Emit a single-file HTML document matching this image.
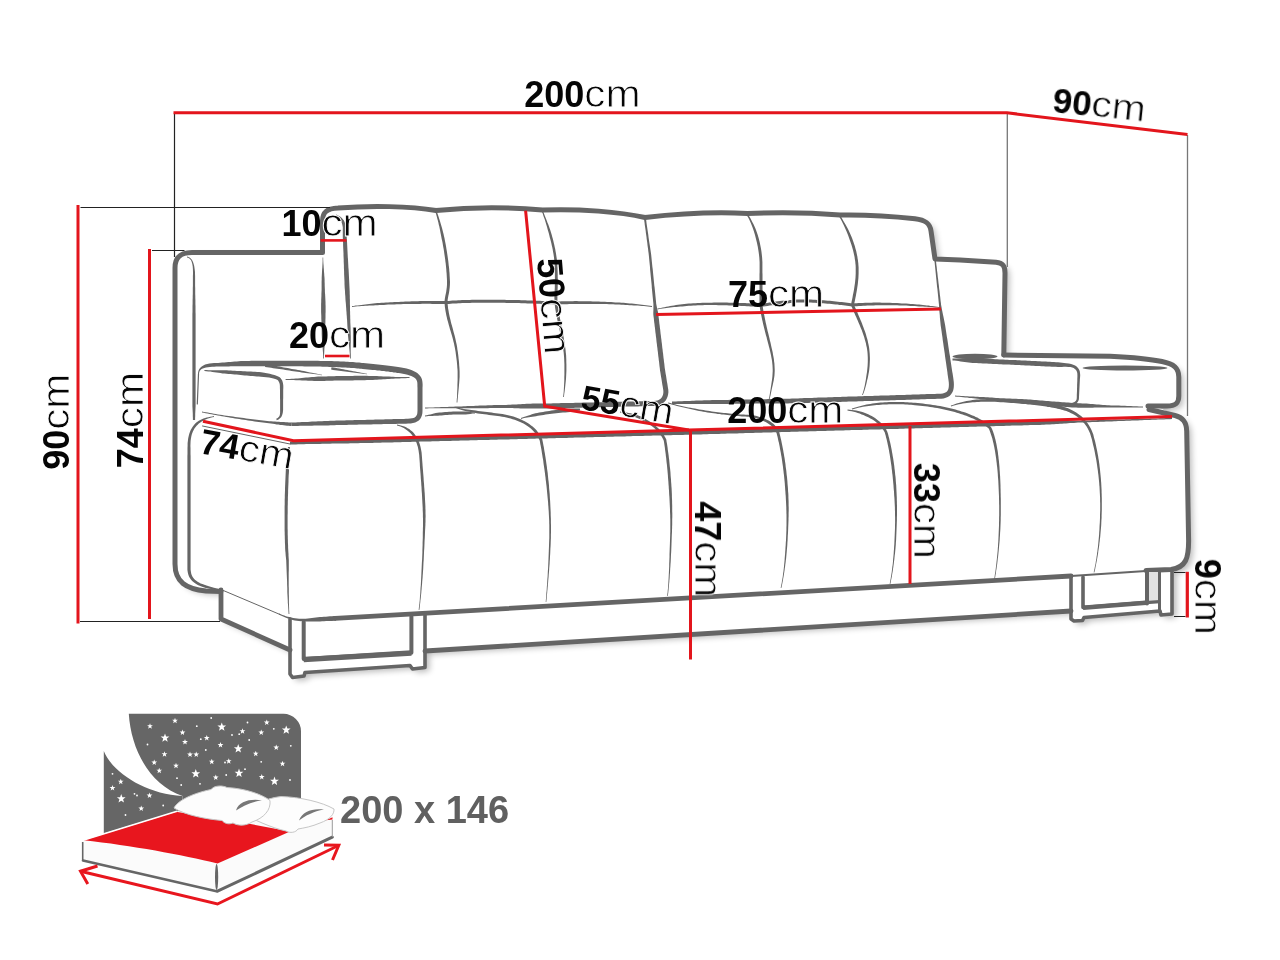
<!DOCTYPE html>
<html lang="en">
<head>
<meta charset="utf-8">
<title>Sofa dimensions</title>
<style>
html,body{margin:0;padding:0;background:#fff}
body{width:1280px;height:960px;overflow:hidden;font-family:"Liberation Sans",sans-serif}
svg{display:block;position:absolute;left:0;top:0}
text{font-family:"Liberation Sans",sans-serif}
.o{fill:none;stroke:#656565;stroke-linecap:round;stroke-linejoin:round}
.r{fill:none;stroke:#e3151c;stroke-width:3;stroke-linecap:butt;stroke-linejoin:miter}
.k{fill:none;stroke:#222;stroke-width:1.2}
.g{fill:none;stroke:#777;stroke-width:1.3}
.lab{fill:#050505}
.lab .n{font-weight:bold;font-size:36px}
.lab .u{font-weight:normal;font-size:38px;stroke:#fff;stroke-width:0.8px;paint-order:fill stroke}
</style>
</head>
<body>
<svg width="1280" height="960" viewBox="0 0 1280 960">
<rect width="1280" height="960" fill="#fff"/>

<!-- SOFA-START -->
<g id="sofa">
<defs><filter id="sh" x="-5%" y="-5%" width="110%" height="112%"><feGaussianBlur stdDeviation="3.2"/></filter></defs>
<path d="M175,268C175,257.5 180,252.5 192,252.5L322.5,252.5L322.5,221C322.5,212 327,208.5 338,208C370,205.5 410,206 436,210.5C470,207 510,207 542.5,210C580,208.5 620,212 645,217.5C680,213.5 715,211.8 747.5,213.5C780,212 810,212.5 840,215C870,214.5 895,216.5 915,218.7C925,219.8 930,223 931,231L935,259L960,260L996,262.3C1003,263 1005,266 1005,273L1003.8,355L1110,356.2C1135,357.5 1150,359 1162,361.5C1174,364 1178.8,368 1178.8,377L1178.8,396C1178.8,403 1176,406 1167,406L1160,408L1175,415.5C1183,417.5 1186.5,422 1186.7,431L1188.6,540C1188.8,558 1186,567.5 1172,570V614L1161,615L1160,611L1084,617.5L1082.5,620.5L1074,621L1071,619V610.5L425,651V667.5L412.5,669L410,665.5L305,672.5L304,676L292.5,677.5L290,674V650L221,619V591.5L206,591C186,589 175,582 175,564Z" fill="#000" opacity="0.27" filter="url(#sh)" transform="translate(4.5,3.5)"/>
<path d="M175,268C175,257.5 180,252.5 192,252.5L322.5,252.5L322.5,221C322.5,212 327,208.5 338,208C370,205.5 410,206 436,210.5C470,207 510,207 542.5,210C580,208.5 620,212 645,217.5C680,213.5 715,211.8 747.5,213.5C780,212 810,212.5 840,215C870,214.5 895,216.5 915,218.7C925,219.8 930,223 931,231L935,259L960,260L996,262.3C1003,263 1005,266 1005,273L1003.8,355L1110,356.2C1135,357.5 1150,359 1162,361.5C1174,364 1178.8,368 1178.8,377L1178.8,396C1178.8,403 1176,406 1167,406L1160,408L1175,415.5C1183,417.5 1186.5,422 1186.7,431L1188.6,540C1188.8,558 1186,567.5 1172,570V614L1161,615L1160,611L1084,617.5L1082.5,620.5L1074,621L1071,619V610.5L425,651V667.5L412.5,669L410,665.5L305,672.5L304,676L292.5,677.5L290,674V650L221,619V591.5L206,591C186,589 175,582 175,564Z" fill="#fff"/>
<path class="o" stroke-width="5" d="M221,591.5L206,591C186,589 175,582 175,564L175,268C175,257.5 180,252.5 192,252.5L322.5,252.5L322.5,221C322.5,212 327,208.5 338,208C370,205.5 410,206 436,210.5C470,207 510,207 542.5,210C580,208.5 620,212 645,217.5C680,213.5 715,211.8 747.5,213.5C780,212 810,212.5 840,215C870,214.5 895,216.5 915,218.7C925,219.8 930,223 931,231L935,259L960,260L996,262.3C1003,263 1005,266 1005,273L1003.8,355"/>
<path class="o" stroke-width="5" d="M1003.8,355L1110,356.2C1135,357.5 1150,359 1162,361.5C1174,364 1178.8,368 1178.8,377L1178.8,396C1178.8,403 1176,406 1167,406L1148,406"/>
<path class="o" stroke-width="5" d="M1149,409.5L1175,415.5C1183,417.5 1186.5,422 1186.7,431L1188.6,540C1188.8,558 1186,567.5 1171,569.5L1146,570.5"/>
<path class="o" stroke-width="4.8" d="M335,618.35L1071,576"/>
<path fill="#656565" d="M278.8,614.5 L280.4,615.2 L282.0,616.0 L283.7,616.7 L285.4,617.5 L287.2,618.2 L289.0,618.8 L290.8,619.4 L292.7,620.0 L294.7,620.5 L296.8,620.8 L298.9,621.1 L301.1,621.3 L303.3,621.4 L305.7,621.5 L308.1,621.6 L310.1,621.6 L312.1,621.6 L314.1,621.6 L316.1,621.6 L318.1,621.5 L320.1,621.5 L322.1,621.3 L324.1,621.2 L326.1,621.1 L328.1,621.1 L330.1,621.0 L332.1,620.9 L334.1,620.8 L336.1,620.7 L335.9,615.9 L333.9,616.0 L331.9,616.2 L329.9,616.3 L327.9,616.5 L325.9,616.7 L323.9,616.8 L321.9,617.0 L319.9,617.1 L317.9,617.3 L315.9,617.5 L313.9,617.7 L311.9,617.9 L309.9,618.2 L307.9,618.4 L305.6,618.7 L303.4,618.8 L301.2,618.8 L299.1,618.7 L297.1,618.5 L295.1,618.2 L293.2,617.9 L291.3,617.5 L289.5,617.1 L287.7,616.7 L285.9,616.2 L284.2,615.6 L282.5,615.0 L280.8,614.3 L279.2,613.5 Z"/>
<path class="o" stroke-width="2" d="M1071,576L1146,571"/>
<path class="o" stroke-width="4.8" d="M221,590V619L290,650"/>
<path class="o" stroke-width="4.8" d="M425,651L1071,611"/>
<path class="o" stroke-width="1" d="M221,589.5L280,614.5"/>
<path class="o" stroke-width="3.6" d="M290,619V674L292.5,677.5L304,676L305,672.5L410,665.5L412.5,669L425,667.5V615"/>
<path class="o" stroke-width="4" d="M303.7,622V659L411.4,652.7V616.5"/>
<path class="o" stroke-width="5.4" d="M303.7,659.6L411.4,653" style="stroke-linecap:butt"/>
<path class="o" stroke-width="3.6" d="M1071,576V619L1074,621L1082.5,620.5L1084,617.5L1160,611L1161,615L1172,614V571"/>
<path class="o" stroke-width="3.6" d="M1083,577V607.5L1146,602.5"/>
<path class="o" stroke-width="4.6" d="M1083,607.8L1146,602.8" style="stroke-linecap:butt"/>
<path d="M1146,572H1159V602.5H1146Z" fill="#e2e2e2"/>
<path class="o" stroke-width="3.4" d="M1146,602.6L1159.5,601.6" style="stroke-linecap:butt"/>
<path class="o" stroke-width="4" d="M1147,572V603.5"/>
<path class="o" stroke-width="3" d="M1159.5,572V611"/>
<path fill="#656565" d="M186.9,257.4 L188.2,257.8 L189.4,258.5 L190.4,259.4 L191.2,260.6 L191.8,262.2 L192.3,264.0 L192.7,266.3 L192.9,269.0 L193.0,272.0 L193.0,274.0 L192.9,276.0 L192.9,278.0 L192.9,280.0 L192.9,282.0 L192.9,284.0 L192.9,286.0 L192.8,288.0 L192.8,290.0 L192.8,292.0 L192.8,294.0 L192.7,296.0 L192.7,298.0 L192.6,300.0 L192.6,302.0 L192.6,304.0 L192.5,306.0 L192.5,308.0 L192.5,310.0 L192.5,312.0 L192.4,314.0 L192.4,316.0 L192.4,318.0 L192.4,320.0 L192.4,322.0 L192.4,324.0 L192.4,326.0 L192.4,328.0 L192.4,330.0 L192.4,332.0 L192.4,334.0 L192.4,336.0 L192.4,338.0 L192.4,340.0 L192.4,342.0 L192.4,344.0 L192.4,346.0 L192.4,348.0 L192.4,350.0 L192.4,352.0 L192.4,354.0 L192.4,356.0 L192.4,358.0 L192.4,360.0 L192.4,362.0 L192.4,364.0 L192.4,366.0 L192.4,368.0 L192.4,370.0 L192.4,372.0 L192.4,374.0 L192.4,376.0 L192.4,378.0 L192.4,380.0 L192.4,382.0 L192.4,384.0 L192.4,386.0 L192.4,388.0 L192.4,390.0 L192.4,392.0 L192.4,394.0 L192.4,396.0 L192.4,398.0 L192.4,400.0 L192.4,402.0 L192.4,404.0 L192.4,406.0 L192.5,408.0 L192.6,410.0 L192.7,412.0 L192.8,414.0 L192.8,416.0 L192.9,418.0 L192.9,420.0 L195.1,420.0 L195.1,418.0 L195.2,416.0 L195.2,414.0 L195.3,412.0 L195.4,410.0 L195.5,408.0 L195.6,406.0 L195.6,404.0 L195.6,402.0 L195.6,400.0 L195.6,398.0 L195.6,396.0 L195.6,394.0 L195.6,392.0 L195.6,390.0 L195.6,388.0 L195.6,386.0 L195.6,384.0 L195.6,382.0 L195.6,380.0 L195.6,378.0 L195.6,376.0 L195.6,374.0 L195.6,372.0 L195.6,370.0 L195.6,368.0 L195.6,366.0 L195.6,364.0 L195.6,362.0 L195.6,360.0 L195.6,358.0 L195.6,356.0 L195.6,354.0 L195.6,352.0 L195.6,350.0 L195.6,348.0 L195.6,346.0 L195.6,344.0 L195.6,342.0 L195.6,340.0 L195.6,338.0 L195.6,336.0 L195.6,334.0 L195.6,332.0 L195.6,330.0 L195.6,328.0 L195.6,326.0 L195.6,324.0 L195.6,322.0 L195.6,320.0 L195.6,318.0 L195.6,316.0 L195.6,314.0 L195.5,312.0 L195.5,310.0 L195.5,308.0 L195.5,306.0 L195.4,304.0 L195.4,302.0 L195.4,300.0 L195.3,298.0 L195.3,296.0 L195.2,294.0 L195.2,292.0 L195.2,290.0 L195.2,288.0 L195.1,286.0 L195.1,284.0 L195.1,282.0 L195.1,280.0 L195.1,278.0 L195.1,276.0 L195.0,274.0 L195.0,272.0 L194.6,268.8 L194.2,266.1 L193.6,263.7 L192.9,261.8 L192.0,260.1 L191.0,258.8 L189.9,257.8 L188.6,257.1 L187.1,256.6 Z"/>
<path fill="#656565" d="M213.9,416.1 L212.1,416.4 L210.3,416.8 L208.5,417.2 L206.8,417.6 L205.1,418.1 L203.5,418.6 L201.9,419.2 L200.3,420.0 L198.8,420.8 L197.4,421.8 L196.0,422.8 L194.8,424.1 L193.6,425.4 L192.5,426.9 L191.6,428.4 L190.7,430.1 L189.9,432.0 L189.2,433.9 L188.7,436.1 L188.2,438.3 L187.9,440.7 L187.6,443.3 L187.6,446.0 L187.5,448.0 L187.5,450.0 L187.5,452.0 L187.5,454.0 L187.4,456.0 L187.4,458.0 L187.4,460.0 L187.4,462.0 L187.4,464.0 L187.4,466.0 L187.4,468.0 L187.4,470.0 L187.4,472.0 L187.4,474.0 L187.4,476.0 L187.4,478.0 L187.4,480.0 L187.4,482.0 L187.4,484.0 L187.4,486.0 L187.4,488.0 L187.4,490.0 L187.4,492.0 L187.4,494.0 L187.4,496.0 L187.4,498.0 L187.4,500.0 L187.4,502.0 L187.4,504.0 L187.4,506.0 L187.4,508.0 L187.4,510.0 L187.4,512.0 L187.4,514.0 L187.4,516.0 L187.4,518.0 L187.4,520.0 L187.4,522.0 L187.4,524.0 L187.4,526.0 L187.4,528.0 L187.4,530.0 L187.4,532.0 L187.4,534.0 L187.4,536.0 L187.4,538.0 L187.4,540.0 L187.4,542.0 L187.4,544.0 L187.4,546.0 L187.4,548.0 L187.4,550.0 L187.4,552.0 L187.4,554.0 L187.4,556.0 L187.4,558.0 L187.4,560.0 L187.4,562.0 L187.4,564.0 L187.4,566.0 L187.4,568.0 L187.4,569.7 L187.6,571.3 L187.9,572.9 L188.3,574.4 L188.8,575.9 L189.4,577.2 L190.2,578.5 L191.1,579.8 L192.2,580.9 L193.4,582.0 L194.7,583.0 L196.2,584.0 L197.8,584.9 L199.6,585.7 L201.5,586.5 L203.6,587.2 L205.8,587.9 L208.3,588.4 L210.9,588.9 L213.7,589.3 L216.7,589.7 L219.9,590.1 L220.1,588.9 L216.9,588.4 L214.0,587.7 L211.3,587.0 L208.8,586.2 L206.5,585.5 L204.3,584.8 L202.4,584.1 L200.6,583.4 L199.0,582.6 L197.6,581.7 L196.3,580.8 L195.2,579.9 L194.2,579.0 L193.4,578.0 L192.7,576.9 L192.1,575.9 L191.6,574.7 L191.2,573.5 L191.0,572.3 L190.8,570.9 L190.6,569.5 L190.6,568.0 L190.6,566.0 L190.6,564.0 L190.6,562.0 L190.6,560.0 L190.6,558.0 L190.6,556.0 L190.6,554.0 L190.6,552.0 L190.6,550.0 L190.6,548.0 L190.6,546.0 L190.6,544.0 L190.6,542.0 L190.6,540.0 L190.6,538.0 L190.6,536.0 L190.6,534.0 L190.6,532.0 L190.6,530.0 L190.6,528.0 L190.6,526.0 L190.6,524.0 L190.6,522.0 L190.6,520.0 L190.6,518.0 L190.6,516.0 L190.6,514.0 L190.6,512.0 L190.6,510.0 L190.6,508.0 L190.6,506.0 L190.6,504.0 L190.6,502.0 L190.6,500.0 L190.6,498.0 L190.6,496.0 L190.6,494.0 L190.6,492.0 L190.6,490.0 L190.6,488.0 L190.6,486.0 L190.6,484.0 L190.6,482.0 L190.6,480.0 L190.6,478.0 L190.6,476.0 L190.6,474.0 L190.6,472.0 L190.6,470.0 L190.6,468.0 L190.6,466.0 L190.6,464.0 L190.6,462.0 L190.6,460.0 L190.6,458.0 L190.6,456.0 L190.5,454.0 L190.5,452.0 L190.5,450.0 L190.5,448.0 L190.4,446.0 L190.5,443.4 L190.6,441.0 L190.9,438.7 L191.3,436.6 L191.7,434.7 L192.3,432.9 L193.0,431.2 L193.8,429.7 L194.6,428.2 L195.6,426.9 L196.6,425.8 L197.7,424.7 L198.8,423.6 L200.0,422.7 L201.3,421.8 L202.7,420.9 L204.1,420.1 L205.6,419.4 L207.2,418.8 L208.8,418.2 L210.5,417.7 L212.3,417.3 L214.1,416.9 Z"/>
<path fill="#656565" d="M199.0,374.0 L199.2,372.4 L199.7,371.1 L200.5,370.0 L201.6,369.1 L202.8,368.4 L204.3,367.9 L206.0,367.5 L207.9,367.2 L209.9,366.9 L212.1,366.8 L214.2,366.7 L216.2,366.6 L218.3,366.5 L220.4,366.5 L222.5,366.5 L224.5,366.4 L226.6,366.4 L228.7,366.4 L230.8,366.3 L232.8,366.3 L234.9,366.3 L237.0,366.2 L239.0,366.2 L241.1,366.2 L243.0,366.2 L245.1,366.3 L247.1,366.3 L249.1,366.3 L251.2,366.3 L253.2,366.3 L255.2,366.3 L257.3,366.3 L259.3,366.3 L261.3,366.3 L263.4,366.3 L265.4,366.3 L267.4,366.3 L269.5,366.3 L271.5,366.3 L273.5,366.3 L275.6,366.3 L277.6,366.3 L279.6,366.3 L281.7,366.3 L283.7,366.3 L285.7,366.3 L287.8,366.3 L289.8,366.3 L291.8,366.3 L293.9,366.3 L295.9,366.3 L297.9,366.3 L300.0,366.3 L302.0,366.3 L304.7,366.4 L307.5,366.4 L310.1,366.4 L312.7,366.5 L315.3,366.5 L317.8,366.6 L320.2,366.6 L322.6,366.7 L325.0,366.7 L327.3,366.8 L329.5,366.9 L331.7,366.9 L333.9,367.0 L336.0,367.1 L338.0,367.2 L340.0,367.3 L341.9,367.4 L343.8,367.5 L345.7,367.6 L347.5,367.7 L349.2,367.8 L350.9,367.9 L352.5,368.0 L354.1,368.1 L355.7,368.3 L357.2,368.4 L358.6,368.5 L360.0,368.7 L361.4,368.8 L362.7,369.0 L365.3,369.2 L367.8,369.4 L370.2,369.7 L372.6,369.9 L375.0,370.1 L377.3,370.4 L379.6,370.6 L381.8,370.9 L384.0,371.1 L386.1,371.4 L388.1,371.6 L390.1,371.9 L392.0,372.1 L393.8,372.4 L395.5,372.6 L397.2,372.9 L398.7,373.1 L400.2,373.3 L401.6,373.5 L402.8,373.8 L405.3,374.2 L407.5,374.8 L409.6,375.4 L411.3,376.0 L412.8,376.7 L414.1,377.4 L415.1,378.3 L415.9,379.1 L416.5,380.1 L417.0,381.2 L417.3,382.5 L417.4,384.1 L417.4,386.0 L417.5,388.1 L417.5,390.1 L417.5,392.2 L417.5,394.2 L417.5,396.2 L417.5,398.3 L417.5,400.3 L417.5,402.3 L417.5,404.4 L417.5,406.4 L417.5,408.5 L417.5,410.4 L417.4,412.3 L417.2,413.9 L416.8,415.1 L416.2,416.0 L415.6,416.7 L414.7,417.4 L413.5,417.9 L412.0,418.3 L410.1,418.6 L407.9,418.8 L405.9,418.8 L403.9,418.9 L401.8,418.9 L399.8,419.0 L397.7,419.0 L395.7,419.1 L393.6,419.1 L391.6,419.2 L389.5,419.2 L387.5,419.3 L385.4,419.3 L383.4,419.4 L381.3,419.5 L379.3,419.5 L377.2,419.6 L375.2,419.6 L373.1,419.7 L371.1,419.7 L369.1,419.8 L367.0,419.8 L365.0,419.9 L362.9,419.9 L360.9,420.0 L358.8,420.0 L356.8,420.1 L354.7,420.1 L352.7,420.2 L350.6,420.2 L348.6,420.3 L346.5,420.3 L344.5,420.4 L342.4,420.4 L340.4,420.5 L338.4,420.6 L336.3,420.6 L334.3,420.7 L332.3,420.8 L330.2,420.8 L328.2,420.9 L326.2,421.0 L324.1,421.1 L322.1,421.2 L320.1,421.2 L318.0,421.3 L316.0,421.4 L314.0,421.5 L312.0,421.6 L309.9,421.8 L307.9,421.9 L305.9,422.0 L303.8,422.1 L301.8,422.1 L299.8,422.2 L297.7,422.3 L295.7,422.4 L293.7,422.5 L291.6,422.6 L291.8,426.0 L293.8,426.0 L295.8,425.9 L297.9,425.9 L299.9,425.8 L301.9,425.8 L304.0,425.8 L306.0,425.7 L308.0,425.7 L310.1,425.7 L312.1,425.7 L314.1,425.6 L316.1,425.6 L318.2,425.6 L320.2,425.6 L322.2,425.5 L324.3,425.5 L326.3,425.4 L328.3,425.4 L330.4,425.3 L332.4,425.3 L334.4,425.2 L336.5,425.1 L338.5,425.1 L340.5,425.0 L342.6,425.0 L344.6,424.9 L346.6,424.9 L348.7,424.8 L350.7,424.8 L352.8,424.7 L354.8,424.7 L356.9,424.7 L358.9,424.6 L361.0,424.6 L363.0,424.5 L365.1,424.5 L367.1,424.4 L369.2,424.4 L371.2,424.4 L373.3,424.3 L375.3,424.3 L377.4,424.2 L379.4,424.2 L381.4,424.2 L383.5,424.1 L385.5,424.1 L387.6,424.0 L389.6,424.0 L391.7,424.0 L393.7,423.9 L395.8,423.9 L397.8,423.8 L399.9,423.8 L401.9,423.8 L404.0,423.7 L406.0,423.7 L408.1,423.6 L410.7,423.5 L413.0,423.1 L415.2,422.5 L417.1,421.6 L418.8,420.4 L420.2,418.9 L421.3,417.1 L422.0,415.1 L422.4,412.9 L422.5,410.6 L422.5,408.5 L422.5,406.4 L422.5,404.4 L422.5,402.3 L422.5,400.3 L422.5,398.3 L422.5,396.2 L422.5,394.2 L422.5,392.2 L422.5,390.1 L422.5,388.1 L422.6,386.0 L422.6,383.9 L422.4,381.7 L422.0,379.6 L421.3,377.7 L420.2,375.9 L418.8,374.4 L417.3,373.0 L415.5,371.9 L413.5,370.9 L411.4,370.1 L409.1,369.3 L406.6,368.6 L404.0,368.0 L402.6,367.8 L401.2,367.5 L399.7,367.2 L398.1,367.0 L396.4,366.7 L394.6,366.5 L392.8,366.2 L390.8,365.9 L388.8,365.7 L386.8,365.4 L384.7,365.2 L382.5,364.9 L380.2,364.7 L378.0,364.4 L375.6,364.2 L373.2,364.0 L370.8,363.7 L368.3,363.5 L365.8,363.3 L363.3,363.0 L362.0,362.9 L360.6,362.8 L359.2,362.6 L357.7,362.5 L356.2,362.4 L354.6,362.2 L353.0,362.1 L351.3,362.0 L349.6,361.9 L347.8,361.8 L346.0,361.7 L344.1,361.6 L342.2,361.5 L340.3,361.4 L338.2,361.3 L336.2,361.3 L334.1,361.2 L331.9,361.1 L329.7,361.1 L327.4,361.0 L325.1,361.0 L322.8,360.9 L320.4,360.9 L317.9,360.8 L315.4,360.8 L312.8,360.8 L310.2,360.7 L307.5,360.7 L304.8,360.7 L302.0,360.7 L300.0,360.7 L297.9,360.7 L295.9,360.7 L293.9,360.7 L291.8,360.7 L289.8,360.7 L287.8,360.7 L285.7,360.7 L283.7,360.7 L281.7,360.8 L279.6,360.8 L277.6,360.8 L275.6,360.8 L273.5,360.8 L271.5,360.8 L269.5,360.8 L267.4,360.8 L265.4,360.8 L263.4,360.8 L261.3,360.8 L259.3,360.8 L257.3,360.8 L255.2,360.8 L253.2,360.8 L251.2,360.8 L249.1,360.9 L247.1,360.9 L245.1,360.9 L243.0,361.0 L240.9,361.0 L238.8,361.2 L236.7,361.4 L234.7,361.5 L232.6,361.7 L230.5,361.9 L228.5,362.0 L226.4,362.2 L224.3,362.4 L222.3,362.5 L220.2,362.7 L218.1,362.9 L216.1,363.0 L214.0,363.1 L211.9,363.2 L209.5,363.5 L207.2,363.9 L205.1,364.6 L203.3,365.4 L201.7,366.5 L200.3,367.7 L199.3,369.0 L198.6,370.5 L198.1,372.2 L198.0,374.0 Z"/>
<path fill="#656565" d="M291.8,422.6 L290.3,422.5 L288.8,422.4 L287.3,422.3 L285.6,422.2 L284.0,422.1 L282.3,422.0 L280.5,421.9 L278.7,421.8 L276.9,421.7 L275.0,421.6 L273.1,421.5 L271.1,421.3 L269.2,421.2 L267.2,421.0 L265.1,420.8 L263.1,420.5 L261.0,420.3 L258.9,420.0 L256.8,419.8 L254.7,419.5 L252.6,419.2 L250.4,419.0 L248.3,418.7 L246.1,418.4 L243.9,418.1 L241.7,417.8 L239.5,417.5 L237.4,417.2 L235.2,416.9 L233.0,416.6 L230.8,416.3 L228.6,416.0 L226.5,415.7 L224.3,415.4 L222.2,415.0 L220.1,414.7 L218.0,414.4 L215.9,414.0 L213.9,413.7 L211.8,413.3 L209.8,413.0 L207.8,412.6 L205.9,412.3 L204.0,411.9 L202.1,411.6 L201.9,412.4 L203.8,412.8 L205.7,413.2 L207.7,413.6 L209.6,413.9 L211.7,414.3 L213.7,414.7 L215.7,415.1 L217.8,415.4 L219.9,415.8 L222.0,416.2 L224.1,416.6 L226.3,416.9 L228.4,417.3 L230.6,417.7 L232.8,418.1 L234.9,418.4 L237.1,418.8 L239.3,419.1 L241.5,419.5 L243.7,419.8 L245.8,420.1 L248.0,420.5 L250.2,420.8 L252.3,421.1 L254.5,421.4 L256.6,421.7 L258.7,422.0 L260.8,422.2 L262.9,422.5 L264.9,422.7 L266.9,423.0 L268.9,423.3 L270.9,423.5 L272.8,423.8 L274.7,424.1 L276.6,424.4 L278.4,424.6 L280.2,424.9 L282.0,425.1 L283.7,425.3 L285.4,425.5 L287.0,425.7 L288.6,425.8 L290.1,425.9 L291.6,426.0 Z"/>
<path class="o" stroke-width="1.2" d="M198.5,374L197.3,404"/>
<path fill="#656565" d="M204.4,371.0 L206.4,371.2 L208.4,371.4 L210.4,371.6 L212.4,371.9 L214.4,372.2 L216.4,372.5 L218.5,372.8 L220.5,373.1 L222.5,373.4 L224.5,373.6 L226.5,373.8 L228.5,374.0 L230.6,374.1 L232.6,374.3 L234.6,374.5 L236.6,374.6 L238.6,374.8 L240.6,375.0 L242.7,375.2 L244.7,375.4 L246.7,375.6 L248.7,375.8 L250.7,376.0 L252.8,376.1 L254.8,376.3 L256.8,376.5 L258.8,376.6 L260.8,376.7 L263.7,376.9 L266.4,377.2 L269.0,377.5 L271.4,377.9 L273.4,378.4 L275.2,379.0 L276.6,379.5 L277.6,380.1 L278.1,380.5 L279.1,382.2 L279.7,383.9 L279.9,385.9 L279.9,388.0 L280.0,390.0 L280.0,392.0 L280.0,394.0 L280.0,396.0 L280.0,398.0 L280.1,400.0 L280.1,402.0 L280.1,404.0 L280.1,406.0 L280.1,408.0 L280.1,410.0 L280.1,412.5 L279.9,414.5 L279.5,415.9 L278.7,417.1 L277.7,418.0 L276.2,418.8 L276.8,420.2 L278.5,419.4 L280.0,418.3 L281.3,417.0 L282.2,415.1 L282.8,412.8 L283.1,410.0 L283.1,408.0 L283.1,406.0 L283.1,404.0 L283.1,402.0 L283.1,400.0 L283.2,398.0 L283.2,396.0 L283.2,394.0 L283.2,392.0 L283.2,390.0 L283.3,388.0 L283.3,385.7 L283.0,383.2 L282.3,380.8 L280.9,378.5 L279.7,377.3 L278.2,376.4 L276.4,375.7 L274.4,375.0 L272.2,374.4 L269.7,373.8 L267.0,373.3 L264.2,372.8 L261.2,372.3 L259.1,372.1 L257.1,372.0 L255.1,371.8 L253.1,371.7 L251.0,371.6 L249.0,371.5 L247.0,371.4 L245.0,371.3 L242.9,371.2 L240.9,371.1 L238.9,371.0 L236.9,370.9 L234.8,370.8 L232.8,370.7 L230.8,370.6 L228.8,370.5 L226.8,370.3 L224.7,370.3 L222.7,370.2 L220.7,370.2 L218.6,370.2 L216.6,370.2 L214.6,370.2 L212.5,370.2 L210.5,370.2 L208.5,370.2 L206.5,370.1 L204.4,370.0 Z"/>
<path fill="#656565" d="M285.6,380.1 L287.6,380.1 L289.7,380.1 L291.7,380.1 L293.7,380.1 L295.8,380.2 L297.8,380.2 L299.9,380.3 L301.9,380.4 L303.9,380.5 L306.0,380.6 L308.0,380.7 L310.0,380.8 L312.1,380.8 L314.1,380.9 L316.1,380.9 L318.2,381.0 L320.2,381.0 L322.2,380.9 L324.3,380.9 L326.3,380.8 L328.3,380.8 L330.4,380.7 L332.4,380.7 L334.4,380.6 L336.5,380.6 L338.5,380.5 L340.5,380.5 L342.5,380.4 L344.6,380.4 L346.6,380.4 L348.6,380.4 L350.6,380.4 L352.7,380.4 L354.7,380.3 L356.7,380.3 L358.8,380.3 L360.8,380.3 L362.8,380.3 L364.9,380.2 L366.9,380.1 L368.9,380.1 L370.9,380.0 L373.0,379.9 L375.0,379.8 L377.0,379.7 L379.1,379.5 L381.1,379.4 L383.1,379.3 L385.1,379.2 L387.2,379.0 L389.2,378.9 L391.2,378.8 L393.3,378.7 L395.3,378.6 L397.3,378.5 L399.4,378.4 L401.4,378.3 L403.4,378.2 L405.4,378.2 L407.5,378.1 L409.5,378.1 L409.5,377.1 L407.5,377.1 L405.4,377.1 L403.4,377.1 L401.4,377.0 L399.3,377.0 L397.3,376.9 L395.3,376.9 L393.2,376.8 L391.2,376.7 L389.2,376.6 L387.2,376.6 L385.1,376.5 L383.1,376.4 L381.1,376.3 L379.0,376.2 L377.0,376.1 L375.0,376.0 L372.9,376.0 L370.9,375.9 L368.9,375.9 L366.8,375.8 L364.8,375.8 L362.8,375.8 L360.8,375.8 L358.7,375.8 L356.7,375.8 L354.7,375.8 L352.6,375.9 L350.6,375.9 L348.6,375.9 L346.5,375.9 L344.5,375.9 L342.5,376.0 L340.4,376.0 L338.4,376.1 L336.3,376.1 L334.3,376.2 L332.3,376.2 L330.3,376.3 L328.2,376.3 L326.2,376.4 L324.2,376.4 L322.1,376.5 L320.1,376.5 L318.1,376.6 L316.0,376.8 L314.0,376.9 L312.0,377.1 L309.9,377.2 L307.9,377.4 L305.9,377.6 L303.9,377.8 L301.8,378.0 L299.8,378.2 L297.8,378.4 L295.7,378.5 L293.7,378.7 L291.7,378.8 L289.7,378.9 L287.6,379.0 L285.6,379.1 Z"/>
<path fill="#656565" d="M265.0,366.9 L267.1,367.2 L269.1,367.5 L271.1,367.8 L273.2,368.2 L275.2,368.4 L277.2,368.7 L279.3,369.0 L281.3,369.3 L283.3,369.6 L285.4,369.9 L287.4,370.2 L289.4,370.5 L291.5,370.9 L293.5,371.2 L295.5,371.5 L297.5,371.8 L299.6,372.1 L301.6,372.4 L303.6,372.7 L305.7,373.0 L307.7,373.2 L309.8,373.5 L311.8,373.8 L313.8,374.1 L315.9,374.3 L317.9,374.6 L319.9,375.0 L321.9,375.3 L322.1,374.7 L320.0,374.4 L318.0,374.0 L316.0,373.6 L314.0,373.2 L312.0,372.8 L309.9,372.4 L307.9,372.0 L305.9,371.5 L303.9,371.1 L301.9,370.7 L299.9,370.3 L297.9,369.9 L295.8,369.6 L293.8,369.2 L291.8,368.9 L289.8,368.5 L287.8,368.1 L285.7,367.7 L283.7,367.4 L281.7,367.0 L279.7,366.6 L277.7,366.2 L275.7,365.8 L273.6,365.4 L271.6,365.0 L269.6,364.6 L267.6,364.3 L265.6,363.9 Z"/>
<path fill="#656565" d="M331.1,369.6 L333.1,369.9 L335.1,370.2 L337.1,370.5 L339.1,370.8 L341.1,371.0 L343.0,371.3 L345.0,371.5 L347.0,371.7 L349.0,372.0 L351.0,372.2 L353.0,372.4 L355.0,372.7 L357.0,372.9 L359.0,373.2 L361.0,373.4 L363.0,373.7 L365.0,374.0 L367.0,374.3 L367.0,373.7 L365.1,373.4 L363.1,373.0 L361.1,372.7 L359.1,372.3 L357.2,372.0 L355.2,371.6 L353.2,371.2 L351.2,370.8 L349.3,370.4 L347.3,370.0 L345.3,369.7 L343.4,369.3 L341.4,368.9 L339.4,368.5 L337.4,368.2 L335.5,367.8 L333.5,367.5 L331.5,367.2 Z"/>
<path class="o" stroke-width="1" d="M202.5,426L290,444"/>
<path fill="#656565" d="M322.6,257.5 L322.6,259.5 L322.6,261.6 L322.5,263.6 L322.4,265.6 L322.3,267.6 L322.1,269.7 L322.0,271.7 L321.9,273.7 L321.8,275.7 L321.7,277.8 L321.7,279.8 L321.6,281.8 L321.6,283.8 L321.6,285.8 L321.6,287.9 L321.6,289.9 L321.5,291.9 L321.4,293.9 L321.4,296.0 L321.3,298.0 L321.2,300.0 L321.2,302.0 L321.1,304.0 L321.1,306.1 L321.1,308.1 L321.1,310.1 L321.1,312.1 L321.2,314.1 L321.3,316.1 L321.3,318.2 L321.4,320.2 L321.5,322.2 L321.5,324.2 L321.6,326.2 L321.6,328.3 L321.7,330.3 L321.7,332.3 L321.7,334.3 L321.8,336.3 L321.9,338.3 L322.0,340.4 L322.2,342.4 L322.3,344.4 L322.5,346.4 L322.7,348.4 L322.8,350.4 L323.0,352.5 L323.1,354.5 L323.2,356.5 L323.2,358.5 L324.0,358.5 L324.0,356.5 L324.1,354.5 L324.2,352.4 L324.3,350.4 L324.4,348.4 L324.6,346.4 L324.7,344.4 L324.9,342.4 L325.0,340.3 L325.1,338.3 L325.2,336.3 L325.2,334.3 L325.2,332.3 L325.2,330.2 L325.2,328.2 L325.3,326.2 L325.3,324.2 L325.4,322.2 L325.4,320.2 L325.5,318.1 L325.5,316.1 L325.5,314.1 L325.6,312.1 L325.6,310.1 L325.6,308.1 L325.6,306.0 L325.5,304.0 L325.5,302.0 L325.4,300.0 L325.3,298.0 L325.2,295.9 L325.1,293.9 L324.9,291.9 L324.9,289.9 L324.8,287.8 L324.7,285.8 L324.7,283.8 L324.6,281.8 L324.6,279.7 L324.5,277.7 L324.3,275.7 L324.2,273.7 L324.0,271.7 L323.9,269.6 L323.7,267.6 L323.6,265.6 L323.4,263.6 L323.3,261.5 L323.2,259.5 L323.2,257.5 Z"/>
<path fill="#656565" d="M335.8,215.4 L337.5,216.3 L338.9,217.4 L339.9,218.7 L340.8,220.1 L341.4,221.7 L342.0,223.4 L342.4,225.2 L342.8,227.2 L342.8,229.1 L342.8,231.1 L342.8,233.2 L342.8,235.2 L342.8,237.2 L342.9,239.3 L343.0,241.3 L343.1,243.3 L343.1,245.3 L343.2,247.4 L343.3,249.4 L343.4,251.4 L343.5,253.5 L343.5,255.5 L343.6,257.5 L343.7,259.5 L343.7,261.6 L343.8,263.6 L343.9,265.6 L343.9,267.7 L344.0,269.7 L344.1,271.7 L344.1,273.7 L344.2,275.8 L344.3,277.8 L344.4,279.8 L344.5,281.9 L344.5,283.9 L344.6,285.9 L344.7,287.9 L344.9,290.0 L345.0,292.0 L345.1,294.0 L345.3,296.0 L345.4,298.1 L345.5,300.1 L345.7,302.1 L345.9,304.1 L346.0,306.1 L346.2,308.2 L346.3,310.2 L346.5,312.2 L346.6,314.2 L346.8,316.2 L346.9,318.2 L347.1,320.2 L347.2,322.3 L347.3,324.3 L347.4,326.3 L347.6,328.3 L347.7,330.3 L347.8,332.3 L347.9,334.4 L348.1,336.4 L348.3,338.4 L348.5,340.4 L348.7,342.4 L348.9,344.4 L349.1,346.4 L349.3,348.4 L349.5,350.5 L349.7,352.5 L349.9,354.5 L350.0,356.5 L350.1,358.5 L350.9,358.5 L350.8,356.5 L350.8,354.4 L350.7,352.4 L350.7,350.4 L350.7,348.4 L350.7,346.4 L350.7,344.3 L350.8,342.3 L350.8,340.3 L350.8,338.3 L350.8,336.2 L350.7,334.2 L350.7,332.2 L350.6,330.2 L350.6,328.2 L350.5,326.2 L350.4,324.1 L350.3,322.1 L350.3,320.1 L350.2,318.1 L350.2,316.1 L350.1,314.0 L350.1,312.0 L350.0,310.0 L350.0,308.0 L350.0,306.0 L349.9,303.9 L349.9,301.9 L349.9,299.9 L349.8,297.9 L349.8,295.8 L349.7,293.8 L349.7,291.8 L349.6,289.8 L349.5,287.7 L349.4,285.7 L349.3,283.7 L349.2,281.6 L349.1,279.6 L349.0,277.6 L348.9,275.6 L348.8,273.5 L348.7,271.5 L348.6,269.5 L348.4,267.5 L348.3,265.4 L348.2,263.4 L348.1,261.4 L348.0,259.3 L347.8,257.3 L347.7,255.3 L347.6,253.3 L347.5,251.2 L347.4,249.2 L347.3,247.2 L347.2,245.2 L347.1,243.1 L347.0,241.1 L346.8,239.1 L346.7,237.0 L346.5,235.0 L346.4,233.0 L346.2,231.0 L346.0,229.0 L345.8,226.8 L345.4,224.5 L344.8,222.4 L343.9,220.5 L342.7,218.9 L341.3,217.5 L339.7,216.3 L338.0,215.4 L336.2,214.6 Z"/>
<path fill="#656565" d="M425.0,408.4 L427.0,408.4 L429.1,408.3 L431.1,408.3 L433.1,408.3 L435.1,408.3 L437.2,408.2 L439.2,408.2 L441.2,408.2 L443.3,408.2 L445.3,408.2 L447.3,408.2 L449.3,408.2 L451.4,408.2 L453.4,408.2 L455.4,408.2 L457.4,408.2 L459.5,408.2 L461.5,408.2 L463.5,408.2 L465.6,408.2 L467.6,408.2 L469.6,408.2 L471.6,408.2 L473.7,408.2 L475.7,408.2 L477.7,408.2 L479.8,408.2 L481.8,408.2 L483.8,408.2 L485.8,408.2 L487.9,408.2 L489.9,408.1 L491.9,408.1 L493.9,408.1 L496.0,408.1 L498.0,408.0 L500.0,408.0 L502.1,408.0 L504.1,408.0 L506.2,408.0 L508.2,408.0 L510.2,408.1 L512.3,408.1 L514.3,408.2 L516.4,408.3 L518.4,408.3 L520.5,408.4 L522.5,408.5 L524.6,408.5 L526.6,408.6 L528.7,408.6 L530.7,408.6 L532.8,408.6 L534.8,408.6 L536.8,408.6 L538.9,408.6 L540.9,408.5 L543.0,408.5 L545.0,408.5 L547.1,408.5 L549.1,408.4 L551.1,408.4 L553.1,408.3 L555.1,408.3 L557.2,408.2 L559.2,408.2 L561.2,408.1 L563.2,408.1 L565.2,408.0 L567.3,408.0 L569.3,407.9 L571.3,407.9 L573.3,407.9 L575.3,407.8 L577.4,407.8 L579.4,407.7 L581.4,407.7 L583.4,407.6 L585.4,407.6 L587.4,407.5 L589.5,407.5 L591.5,407.4 L593.5,407.4 L595.5,407.3 L597.5,407.3 L599.6,407.2 L601.6,407.2 L603.6,407.2 L605.6,407.1 L607.6,407.1 L609.6,407.0 L611.7,407.0 L613.7,406.9 L615.7,406.9 L617.7,406.8 L619.7,406.8 L621.8,406.7 L623.8,406.7 L625.8,406.6 L627.8,406.6 L629.8,406.6 L631.9,406.5 L633.9,406.5 L635.9,406.4 L637.9,406.4 L639.9,406.3 L641.9,406.3 L644.0,406.2 L646.0,406.2 L648.0,406.1 L650.0,406.1 L652.0,406.0 L654.2,406.0 L656.5,405.7 L658.8,405.2 L660.8,404.4 L662.7,403.3 L664.3,402.0 L665.7,400.4 L666.8,398.6 L667.6,396.6 L668.1,394.5 L668.4,392.2 L668.3,389.8 L667.9,387.6 L667.6,385.6 L667.3,383.6 L666.9,381.6 L666.6,379.6 L666.3,377.6 L666.0,375.6 L665.6,373.6 L665.3,371.6 L665.0,369.6 L664.7,367.7 L664.5,365.7 L664.3,363.7 L664.0,361.7 L663.8,359.7 L663.5,357.7 L663.3,355.7 L663.1,353.7 L662.8,351.7 L662.6,349.7 L662.3,347.7 L662.1,345.7 L661.9,343.7 L661.6,341.7 L661.4,339.7 L661.1,337.7 L660.9,335.7 L660.6,333.7 L660.4,331.7 L660.2,329.7 L659.9,327.7 L659.7,325.7 L659.4,323.7 L659.2,321.7 L659.0,319.7 L658.7,317.7 L658.5,315.7 L658.3,313.7 L657.9,311.7 L657.4,309.7 L657.0,307.7 L656.6,305.7 L656.2,303.7 L656.0,301.6 L655.8,299.6 L655.6,297.6 L655.4,295.5 L655.2,293.5 L655.0,291.5 L654.8,289.4 L654.6,287.4 L654.3,285.4 L654.1,283.3 L653.9,281.3 L653.7,279.3 L653.5,277.2 L653.3,275.2 L653.1,273.2 L652.9,271.1 L652.7,269.1 L652.4,267.1 L652.2,265.0 L652.0,263.0 L651.8,261.0 L651.6,259.0 L651.4,256.9 L651.2,254.9 L650.9,252.8 L650.6,250.8 L650.3,248.8 L650.0,246.8 L649.7,244.8 L649.4,242.9 L649.1,240.9 L648.8,238.9 L648.5,236.9 L648.3,234.9 L648.0,232.9 L647.7,230.9 L647.4,228.9 L647.1,226.9 L646.8,224.9 L646.5,222.9 L646.3,220.9 L646.0,218.9 L644.0,219.1 L644.3,221.1 L644.6,223.1 L644.8,225.1 L645.1,227.1 L645.4,229.1 L645.7,231.1 L645.9,233.1 L646.2,235.1 L646.5,237.1 L646.7,239.1 L647.0,241.1 L647.3,243.1 L647.5,245.2 L647.8,247.2 L648.1,249.2 L648.3,251.2 L648.6,253.2 L648.8,255.1 L649.0,257.1 L649.2,259.2 L649.4,261.2 L649.6,263.3 L649.8,265.3 L650.0,267.3 L650.1,269.4 L650.3,271.4 L650.5,273.4 L650.7,275.5 L650.9,277.5 L651.1,279.5 L651.3,281.6 L651.5,283.6 L651.7,285.6 L651.8,287.7 L652.0,289.7 L652.2,291.7 L652.4,293.8 L652.6,295.8 L652.8,297.8 L653.0,299.9 L653.2,301.9 L653.4,303.9 L653.4,306.0 L653.4,308.0 L653.4,310.1 L653.3,312.2 L653.3,314.2 L653.5,316.3 L653.8,318.3 L654.0,320.3 L654.2,322.3 L654.5,324.3 L654.7,326.3 L655.0,328.3 L655.2,330.3 L655.4,332.3 L655.7,334.3 L655.9,336.3 L656.2,338.3 L656.4,340.3 L656.6,342.3 L656.9,344.3 L657.1,346.3 L657.4,348.3 L657.6,350.3 L657.9,352.3 L658.1,354.3 L658.3,356.3 L658.6,358.3 L658.8,360.3 L659.1,362.3 L659.3,364.3 L659.5,366.3 L659.8,368.3 L660.0,370.4 L660.4,372.4 L660.7,374.4 L661.0,376.4 L661.4,378.4 L661.7,380.4 L662.0,382.4 L662.3,384.4 L662.7,386.4 L663.0,388.4 L663.3,390.2 L663.4,392.0 L663.2,393.7 L662.9,395.1 L662.4,396.3 L661.7,397.4 L660.9,398.4 L659.8,399.2 L658.7,399.9 L657.3,400.4 L655.7,400.8 L653.8,401.0 L651.9,401.0 L649.9,401.1 L647.9,401.1 L645.9,401.2 L643.9,401.2 L641.8,401.3 L639.8,401.3 L637.8,401.4 L635.8,401.4 L633.8,401.5 L631.7,401.5 L629.7,401.6 L627.7,401.6 L625.7,401.6 L623.7,401.7 L621.6,401.7 L619.6,401.8 L617.6,401.8 L615.6,401.9 L613.6,401.9 L611.6,402.0 L609.5,402.0 L607.5,402.1 L605.5,402.1 L603.5,402.2 L601.5,402.2 L599.4,402.3 L597.4,402.3 L595.4,402.3 L593.4,402.4 L591.4,402.4 L589.4,402.5 L587.3,402.5 L585.3,402.6 L583.3,402.6 L581.3,402.7 L579.3,402.7 L577.2,402.8 L575.2,402.8 L573.2,402.9 L571.2,402.9 L569.2,402.9 L567.1,403.0 L565.1,403.0 L563.1,403.1 L561.1,403.1 L559.1,403.2 L557.1,403.2 L555.0,403.3 L553.0,403.3 L551.0,403.4 L549.0,403.4 L547.0,403.5 L545.0,403.5 L542.9,403.5 L540.9,403.5 L538.8,403.6 L536.8,403.6 L534.7,403.6 L532.7,403.6 L530.7,403.7 L528.6,403.8 L526.6,403.8 L524.5,403.9 L522.5,404.0 L520.4,404.2 L518.4,404.3 L516.3,404.4 L514.3,404.5 L512.3,404.6 L510.2,404.7 L508.2,404.8 L506.1,404.9 L504.1,404.9 L502.0,405.0 L500.0,405.0 L497.9,405.0 L495.9,405.1 L493.9,405.1 L491.9,405.2 L489.8,405.3 L487.8,405.3 L485.8,405.4 L483.8,405.5 L481.7,405.5 L479.7,405.6 L477.7,405.7 L475.7,405.8 L473.6,405.9 L471.6,405.9 L469.6,406.0 L467.5,406.1 L465.5,406.2 L463.5,406.3 L461.5,406.4 L459.4,406.4 L457.4,406.5 L455.4,406.6 L453.4,406.7 L451.3,406.8 L449.3,406.8 L447.3,406.9 L445.3,407.0 L443.2,407.1 L441.2,407.1 L439.2,407.2 L437.2,407.3 L435.1,407.3 L433.1,407.4 L431.1,407.5 L429.0,407.5 L427.0,407.6 L425.0,407.6 Z"/>
<path fill="#656565" d="M435.3,211.7 L435.9,213.5 L436.4,215.2 L436.9,217.0 L437.4,218.9 L437.9,220.8 L438.4,222.7 L438.8,224.7 L439.3,226.6 L439.7,228.6 L440.1,230.6 L440.5,232.7 L440.9,234.7 L441.3,236.8 L441.7,238.9 L442.2,240.9 L442.6,243.0 L442.9,245.1 L443.3,247.2 L443.7,249.3 L444.0,251.3 L444.3,253.4 L444.6,255.5 L444.9,257.5 L445.2,259.6 L445.4,261.6 L445.7,263.6 L445.9,265.6 L446.1,267.5 L446.3,269.5 L446.4,271.4 L446.6,273.3 L446.7,275.1 L446.8,276.9 L446.9,278.6 L447.0,280.4 L447.0,282.0 L447.0,284.8 L446.8,287.3 L446.5,289.6 L446.2,291.7 L445.8,293.7 L445.4,295.5 L445.1,297.3 L444.8,299.0 L444.6,300.7 L444.5,302.5 L444.7,304.7 L444.9,306.9 L445.2,309.0 L445.5,311.1 L445.9,313.1 L446.3,315.2 L446.8,317.2 L447.2,319.2 L447.8,321.2 L448.3,323.1 L448.8,325.1 L449.4,327.0 L449.9,328.9 L450.5,330.8 L451.0,332.6 L451.6,334.5 L452.1,336.3 L452.6,338.1 L453.1,339.9 L453.5,341.7 L454.0,343.5 L454.3,345.2 L454.8,347.5 L455.2,349.8 L455.6,352.1 L455.9,354.4 L456.2,356.7 L456.5,358.9 L456.8,361.2 L457.0,363.4 L457.2,365.5 L457.3,367.6 L457.5,369.6 L457.6,371.6 L457.6,373.5 L457.6,375.2 L457.6,376.9 L457.6,378.5 L457.6,380.0 L457.5,382.6 L457.4,385.0 L457.4,387.3 L457.3,389.5 L457.2,391.5 L457.1,393.5 L457.1,395.4 L457.0,397.2 L456.8,398.9 L456.7,400.7 L456.6,402.5 L457.4,402.5 L457.5,400.8 L457.7,399.0 L457.9,397.2 L458.0,395.4 L458.2,393.6 L458.4,391.6 L458.6,389.6 L458.8,387.4 L459.0,385.1 L459.2,382.7 L459.4,380.0 L459.5,378.6 L459.6,377.0 L459.6,375.2 L459.6,373.4 L459.6,371.5 L459.5,369.5 L459.4,367.5 L459.2,365.4 L459.1,363.2 L458.9,361.0 L458.6,358.7 L458.4,356.4 L458.1,354.1 L457.8,351.8 L457.4,349.4 L457.1,347.1 L456.7,344.8 L456.3,343.0 L455.9,341.2 L455.5,339.3 L455.1,337.5 L454.6,335.6 L454.1,333.8 L453.6,331.9 L453.1,330.0 L452.6,328.1 L452.1,326.2 L451.5,324.3 L451.0,322.4 L450.6,320.4 L450.1,318.5 L449.6,316.5 L449.2,314.6 L448.8,312.6 L448.5,310.6 L448.1,308.5 L447.9,306.5 L447.7,304.5 L447.5,302.5 L447.6,301.0 L447.7,299.4 L448.0,297.8 L448.3,296.1 L448.7,294.2 L449.1,292.2 L449.4,290.0 L449.7,287.6 L449.9,284.9 L450.0,282.0 L449.9,280.3 L449.8,278.5 L449.7,276.7 L449.6,274.9 L449.5,273.0 L449.3,271.1 L449.2,269.2 L449.0,267.3 L448.7,265.3 L448.5,263.3 L448.3,261.2 L448.0,259.2 L447.7,257.1 L447.4,255.1 L447.1,253.0 L446.8,250.9 L446.4,248.8 L446.1,246.7 L445.7,244.6 L445.3,242.5 L444.9,240.4 L444.5,238.3 L444.0,236.2 L443.6,234.2 L443.0,232.1 L442.5,230.1 L442.0,228.1 L441.4,226.1 L440.8,224.1 L440.3,222.2 L439.7,220.3 L439.1,218.4 L438.5,216.6 L437.9,214.8 L437.3,213.0 L436.7,211.3 Z"/>
<path fill="#656565" d="M352.0,306.9 L353.9,306.7 L355.7,306.5 L357.6,306.3 L359.4,306.2 L361.4,306.0 L363.3,305.9 L365.3,305.8 L367.3,305.7 L369.3,305.6 L371.3,305.5 L373.4,305.4 L375.4,305.3 L377.5,305.2 L379.6,305.1 L381.7,305.0 L383.8,304.9 L386.0,304.7 L388.1,304.6 L390.2,304.5 L392.4,304.4 L394.5,304.4 L396.7,304.3 L398.8,304.2 L401.0,304.2 L403.1,304.1 L405.3,304.1 L407.4,304.0 L409.6,304.0 L411.7,303.9 L413.8,303.9 L415.9,303.9 L418.0,303.9 L420.1,303.9 L422.2,303.8 L424.2,303.8 L426.2,303.8 L428.2,303.8 L430.2,303.8 L432.2,303.9 L434.2,303.9 L436.1,303.9 L438.0,303.9 L439.8,303.9 L441.7,303.9 L443.5,303.9 L445.2,304.0 L447.0,304.0 L448.9,303.9 L450.8,303.7 L452.7,303.6 L454.5,303.5 L456.4,303.4 L458.3,303.3 L460.2,303.2 L462.2,303.1 L464.1,303.1 L466.0,303.0 L468.0,302.9 L470.0,302.9 L471.9,302.8 L473.9,302.8 L475.9,302.8 L477.9,302.7 L479.9,302.7 L481.9,302.7 L484.0,302.7 L486.0,302.7 L488.0,302.7 L490.1,302.7 L492.1,302.7 L494.2,302.7 L496.2,302.7 L498.3,302.7 L500.4,302.7 L502.4,302.8 L504.5,302.8 L506.6,302.9 L508.6,302.9 L510.7,302.9 L512.8,303.0 L514.9,303.0 L517.0,303.1 L519.0,303.1 L521.1,303.2 L523.2,303.3 L525.3,303.3 L527.3,303.4 L529.4,303.5 L531.5,303.5 L533.5,303.6 L535.6,303.7 L537.7,303.8 L539.7,303.8 L541.8,303.9 L543.8,304.0 L545.8,304.1 L547.9,304.2 L549.9,304.2 L551.9,304.3 L553.9,304.4 L556.0,304.5 L557.9,304.4 L559.7,304.4 L561.5,304.3 L563.4,304.3 L565.3,304.2 L567.2,304.2 L569.1,304.1 L571.0,304.1 L572.9,304.1 L574.8,304.0 L576.8,304.0 L578.7,304.0 L580.7,303.9 L582.7,303.9 L584.7,303.9 L586.7,303.9 L588.7,303.9 L590.7,303.9 L592.7,303.9 L594.7,303.9 L596.7,303.9 L598.8,303.9 L600.8,304.0 L602.8,304.0 L604.9,304.0 L606.9,304.1 L609.0,304.2 L611.0,304.2 L613.1,304.3 L615.2,304.4 L617.2,304.5 L619.3,304.6 L621.3,304.7 L623.4,304.8 L625.5,305.0 L627.5,305.1 L629.6,305.2 L631.6,305.3 L633.7,305.4 L635.7,305.5 L637.8,305.6 L639.8,305.8 L641.9,305.9 L643.9,306.1 L645.9,306.3 L647.9,306.4 L649.9,306.7 L652.0,306.9 L652.0,306.1 L650.0,305.8 L648.0,305.6 L646.0,305.3 L644.0,305.1 L642.0,304.8 L639.9,304.5 L637.9,304.3 L635.9,304.0 L633.8,303.8 L631.8,303.6 L629.7,303.4 L627.6,303.2 L625.6,303.0 L623.5,302.8 L621.5,302.7 L619.4,302.6 L617.3,302.5 L615.3,302.4 L613.2,302.2 L611.1,302.1 L609.1,302.0 L607.0,301.9 L605.0,301.8 L602.9,301.8 L600.9,301.7 L598.8,301.6 L596.8,301.5 L594.7,301.5 L592.7,301.4 L590.7,301.3 L588.7,301.3 L586.7,301.3 L584.7,301.2 L582.7,301.2 L580.7,301.2 L578.7,301.2 L576.8,301.1 L574.8,301.1 L572.9,301.2 L570.9,301.2 L569.0,301.2 L567.1,301.2 L565.2,301.2 L563.3,301.3 L561.5,301.3 L559.6,301.4 L557.8,301.4 L556.0,301.5 L554.1,301.4 L552.0,301.3 L550.0,301.3 L548.0,301.2 L546.0,301.1 L543.9,301.0 L541.9,300.9 L539.8,300.8 L537.8,300.8 L535.7,300.7 L533.6,300.6 L531.6,300.5 L529.5,300.5 L527.4,300.4 L525.4,300.3 L523.3,300.3 L521.2,300.2 L519.1,300.1 L517.0,300.1 L515.0,300.0 L512.9,300.0 L510.8,299.9 L508.7,299.9 L506.6,299.9 L504.5,299.8 L502.5,299.8 L500.4,299.8 L498.3,299.7 L496.3,299.7 L494.2,299.7 L492.1,299.7 L490.1,299.7 L488.0,299.7 L486.0,299.7 L483.9,299.7 L481.9,299.7 L479.9,299.7 L477.9,299.7 L475.9,299.8 L473.9,299.8 L471.9,299.8 L469.9,299.9 L467.9,299.9 L465.9,300.0 L464.0,300.1 L462.0,300.1 L460.1,300.2 L458.2,300.3 L456.3,300.4 L454.4,300.5 L452.5,300.6 L450.6,300.7 L448.7,300.9 L447.0,301.0 L445.3,301.0 L443.5,300.9 L441.7,300.9 L439.9,300.9 L438.0,300.9 L436.1,300.9 L434.2,300.9 L432.2,300.9 L430.2,300.9 L428.2,300.9 L426.2,301.0 L424.2,301.0 L422.1,301.1 L420.1,301.1 L418.0,301.2 L415.9,301.2 L413.8,301.3 L411.6,301.3 L409.5,301.4 L407.4,301.5 L405.2,301.6 L403.1,301.7 L400.9,301.8 L398.8,301.9 L396.6,302.0 L394.4,302.1 L392.3,302.2 L390.1,302.3 L388.0,302.4 L385.8,302.5 L383.7,302.7 L381.6,302.8 L379.5,302.9 L377.4,303.1 L375.3,303.3 L373.2,303.5 L371.2,303.7 L369.2,303.9 L367.2,304.2 L365.2,304.4 L363.2,304.7 L361.3,304.9 L359.3,305.2 L357.5,305.4 L355.6,305.6 L353.8,305.9 L352.0,306.1 Z"/>
<path fill="#656565" d="M541.9,211.7 L542.7,213.6 L543.3,215.4 L544.0,217.4 L544.7,219.3 L545.3,221.2 L545.9,223.2 L546.5,225.2 L547.1,227.2 L547.6,229.2 L548.2,231.3 L548.8,233.3 L549.3,235.3 L549.8,237.4 L550.4,239.4 L550.9,241.4 L551.4,243.5 L551.8,245.5 L552.3,247.5 L552.7,249.5 L553.0,251.5 L553.4,253.5 L553.7,255.5 L554.0,257.4 L554.2,259.4 L554.4,261.3 L554.5,263.2 L554.7,265.1 L554.8,268.1 L554.9,271.0 L554.9,273.8 L554.9,276.4 L554.9,278.9 L554.9,281.2 L554.9,283.4 L554.8,285.5 L554.8,287.5 L554.7,289.4 L554.6,291.2 L554.6,292.9 L554.5,294.5 L554.4,296.1 L554.4,297.6 L554.4,299.0 L554.4,300.4 L554.4,301.8 L554.5,303.1 L554.8,305.1 L555.0,307.1 L555.3,309.0 L555.7,311.0 L556.0,312.9 L556.4,314.8 L556.7,316.7 L557.1,318.6 L557.5,320.5 L557.9,322.4 L558.3,324.3 L558.8,326.2 L559.2,328.1 L559.6,330.1 L560.0,332.0 L560.4,334.0 L560.9,336.0 L561.3,338.0 L561.7,340.0 L562.0,342.1 L562.4,344.1 L562.8,346.3 L563.1,348.4 L563.4,350.6 L563.7,352.8 L563.9,355.1 L564.1,357.5 L564.2,359.8 L564.3,362.1 L564.4,364.3 L564.4,366.5 L564.4,368.7 L564.4,370.8 L564.4,372.8 L564.4,374.9 L564.3,376.9 L564.3,378.8 L564.3,380.7 L564.2,382.6 L564.1,384.5 L564.0,386.3 L563.9,388.2 L563.8,390.0 L563.7,391.7 L563.5,393.5 L563.3,395.2 L563.1,397.0 L563.9,397.0 L564.1,395.3 L564.3,393.6 L564.6,391.8 L564.8,390.1 L565.0,388.3 L565.2,386.4 L565.4,384.6 L565.6,382.7 L565.8,380.8 L566.0,378.9 L566.1,376.9 L566.2,374.9 L566.3,372.9 L566.4,370.8 L566.4,368.7 L566.4,366.5 L566.4,364.3 L566.3,362.0 L566.3,359.7 L566.2,357.4 L566.1,354.9 L565.8,352.6 L565.6,350.3 L565.3,348.1 L565.0,345.9 L564.7,343.8 L564.4,341.7 L564.0,339.6 L563.7,337.5 L563.3,335.5 L563.0,333.5 L562.6,331.5 L562.2,329.5 L561.8,327.6 L561.4,325.7 L561.0,323.7 L560.7,321.8 L560.3,319.9 L559.9,318.0 L559.6,316.2 L559.2,314.3 L558.9,312.4 L558.6,310.5 L558.3,308.6 L558.0,306.7 L557.7,304.8 L557.5,302.9 L557.4,301.7 L557.4,300.4 L557.4,299.0 L557.4,297.6 L557.4,296.2 L557.5,294.6 L557.5,293.0 L557.6,291.3 L557.6,289.5 L557.7,287.6 L557.7,285.6 L557.8,283.5 L557.8,281.2 L557.8,278.9 L557.7,276.4 L557.7,273.7 L557.6,271.0 L557.5,268.0 L557.3,264.9 L557.2,263.0 L557.0,261.0 L556.8,259.1 L556.5,257.1 L556.2,255.1 L555.9,253.1 L555.5,251.1 L555.2,249.0 L554.7,247.0 L554.3,244.9 L553.8,242.9 L553.3,240.8 L552.8,238.8 L552.2,236.7 L551.7,234.7 L551.0,232.6 L550.4,230.6 L549.7,228.6 L549.0,226.6 L548.3,224.6 L547.5,222.7 L546.8,220.7 L546.0,218.8 L545.3,216.9 L544.5,215.0 L543.8,213.1 L543.1,211.3 Z"/>
<path fill="#656565" d="M934.3,259.1 L934.5,261.1 L934.7,263.1 L934.9,265.1 L935.1,267.1 L935.3,269.1 L935.5,271.1 L935.7,273.1 L935.9,275.1 L936.1,277.1 L936.3,279.1 L936.5,281.1 L936.7,283.1 L936.9,285.1 L937.1,287.1 L937.4,289.1 L937.6,291.1 L937.8,293.1 L938.0,295.1 L938.2,297.1 L938.4,299.1 L938.6,301.1 L938.8,303.1 L939.0,305.1 L939.1,307.1 L939.2,309.2 L939.4,311.2 L939.6,313.3 L939.8,315.3 L939.9,317.4 L940.1,319.4 L940.3,321.5 L940.5,323.5 L940.7,325.6 L941.0,327.6 L941.3,329.6 L941.6,331.6 L941.9,333.7 L942.2,335.7 L942.5,337.7 L942.7,339.8 L943.0,341.8 L943.3,343.8 L943.6,345.9 L943.9,347.9 L944.2,349.9 L944.5,351.9 L944.8,354.0 L945.0,356.0 L945.3,358.0 L945.6,360.1 L945.9,362.1 L946.2,364.1 L946.5,366.2 L946.8,368.2 L947.1,370.2 L947.4,372.2 L947.6,374.3 L947.9,376.3 L948.2,378.3 L948.5,380.3 L948.8,382.6 L948.9,384.7 L948.8,386.4 L948.6,388.0 L948.3,389.3 L947.8,390.3 L947.2,391.2 L946.4,391.9 L945.4,392.6 L944.2,393.1 L942.7,393.5 L940.8,393.7 L938.9,393.8 L936.9,393.8 L934.9,393.9 L932.9,394.0 L930.9,394.0 L928.8,394.1 L926.8,394.1 L924.8,394.2 L922.8,394.3 L920.8,394.3 L918.8,394.4 L916.8,394.5 L914.7,394.5 L912.7,394.6 L910.7,394.7 L908.7,394.7 L906.7,394.8 L904.7,394.9 L902.7,394.9 L900.7,395.0 L898.6,395.0 L896.6,395.1 L894.6,395.2 L892.6,395.2 L890.6,395.3 L888.6,395.4 L886.6,395.4 L884.5,395.5 L882.5,395.6 L880.5,395.6 L878.5,395.7 L876.5,395.7 L874.5,395.8 L872.5,395.9 L870.5,395.9 L868.4,396.0 L866.4,396.1 L864.4,396.1 L862.4,396.2 L860.4,396.3 L858.4,396.3 L856.4,396.4 L854.3,396.5 L852.3,396.5 L850.3,396.6 L848.3,396.6 L846.3,396.7 L844.3,396.8 L842.3,396.8 L840.3,396.9 L838.2,397.0 L836.2,397.0 L834.2,397.1 L832.2,397.2 L830.2,397.2 L828.2,397.3 L826.2,397.4 L824.1,397.4 L822.1,397.5 L820.1,397.6 L818.1,397.6 L816.1,397.7 L814.1,397.8 L812.1,397.9 L810.1,397.9 L808.0,398.0 L806.0,398.1 L804.0,398.1 L802.0,398.2 L800.0,398.3 L798.0,398.4 L796.0,398.4 L794.0,398.5 L791.9,398.6 L789.9,398.7 L788.0,398.7 L786.0,398.7 L784.0,398.8 L782.0,398.8 L780.0,398.9 L778.0,398.9 L776.0,398.9 L774.0,399.0 L772.0,399.0 L770.0,399.1 L768.0,399.1 L766.0,399.2 L764.0,399.2 L762.0,399.2 L760.0,399.3 L758.0,399.3 L756.0,399.4 L754.0,399.4 L752.0,399.4 L750.0,399.5 L748.0,399.5 L746.0,399.5 L744.0,399.6 L742.0,399.6 L740.0,399.7 L738.0,399.7 L736.0,399.7 L734.0,399.8 L732.0,399.8 L730.0,399.8 L728.0,399.9 L726.0,399.9 L724.0,399.9 L722.0,400.0 L720.0,400.0 L718.0,400.0 L716.0,400.1 L714.0,400.1 L712.0,400.1 L710.0,400.2 L708.0,400.2 L706.0,400.3 L704.0,400.3 L702.0,400.4 L700.0,400.5 L698.0,400.6 L696.0,400.6 L694.0,400.7 L692.0,400.8 L690.0,400.9 L688.0,401.0 L686.0,401.0 L684.0,401.1 L682.0,401.2 L680.0,401.3 L678.0,401.3 L676.0,401.4 L674.0,401.4 L672.0,401.5 L672.0,403.9 L674.0,403.9 L676.0,403.9 L678.0,403.9 L680.0,403.9 L682.0,403.9 L684.0,403.9 L686.0,403.9 L688.0,404.0 L690.0,404.0 L692.0,404.0 L694.0,404.0 L696.0,404.1 L698.0,404.1 L700.0,404.1 L702.0,404.1 L704.0,404.1 L706.0,404.1 L708.0,404.1 L710.0,404.1 L712.0,404.1 L714.0,404.1 L716.0,404.1 L718.0,404.0 L720.0,404.0 L722.0,404.0 L724.0,404.0 L726.0,403.9 L728.0,403.9 L730.0,403.9 L732.0,403.9 L734.0,403.8 L736.0,403.8 L738.0,403.8 L740.0,403.8 L742.0,403.8 L744.0,403.7 L746.0,403.7 L748.0,403.7 L750.0,403.7 L752.0,403.7 L754.0,403.6 L756.0,403.6 L758.0,403.6 L760.0,403.6 L762.0,403.6 L764.0,403.6 L766.0,403.5 L768.0,403.5 L770.0,403.5 L772.0,403.5 L774.0,403.5 L776.0,403.5 L778.0,403.4 L780.0,403.4 L782.0,403.4 L784.0,403.4 L786.0,403.4 L788.0,403.4 L790.1,403.3 L792.1,403.3 L794.1,403.2 L796.1,403.2 L798.1,403.1 L800.1,403.1 L802.2,403.0 L804.2,403.0 L806.2,402.9 L808.2,402.9 L810.2,402.8 L812.2,402.7 L814.2,402.7 L816.3,402.6 L818.3,402.6 L820.3,402.5 L822.3,402.5 L824.3,402.4 L826.3,402.3 L828.3,402.3 L830.3,402.2 L832.4,402.2 L834.4,402.1 L836.4,402.0 L838.4,402.0 L840.4,401.9 L842.4,401.8 L844.4,401.8 L846.5,401.7 L848.5,401.6 L850.5,401.6 L852.5,401.5 L854.5,401.5 L856.5,401.4 L858.5,401.3 L860.5,401.3 L862.6,401.2 L864.6,401.1 L866.6,401.1 L868.6,401.0 L870.6,400.9 L872.6,400.9 L874.6,400.8 L876.7,400.7 L878.7,400.7 L880.7,400.6 L882.7,400.6 L884.7,400.5 L886.7,400.4 L888.7,400.4 L890.7,400.3 L892.8,400.2 L894.8,400.2 L896.8,400.1 L898.8,400.0 L900.8,400.0 L902.8,399.9 L904.8,399.9 L906.9,399.8 L908.9,399.7 L910.9,399.7 L912.9,399.6 L914.9,399.5 L916.9,399.5 L918.9,399.4 L920.9,399.3 L923.0,399.3 L925.0,399.2 L927.0,399.1 L929.0,399.1 L931.0,399.0 L933.0,399.0 L935.0,398.9 L937.1,398.8 L939.1,398.8 L941.2,398.7 L943.6,398.4 L945.8,397.8 L947.7,397.0 L949.5,395.9 L950.9,394.5 L952.1,392.8 L953.0,391.0 L953.5,389.0 L953.8,386.9 L953.9,384.6 L953.8,382.2 L953.5,379.7 L953.2,377.6 L952.9,375.6 L952.6,373.6 L952.2,371.5 L951.9,369.5 L951.6,367.5 L951.3,365.4 L951.0,363.4 L950.7,361.4 L950.4,359.4 L950.1,357.3 L949.8,355.3 L949.4,353.3 L949.1,351.3 L948.8,349.2 L948.5,347.2 L948.2,345.2 L947.9,343.1 L947.6,341.1 L947.3,339.1 L946.9,337.1 L946.6,335.0 L946.3,333.0 L946.0,331.0 L945.7,329.0 L945.4,326.9 L945.1,324.9 L944.7,322.9 L944.3,320.9 L943.9,318.9 L943.5,316.9 L943.0,314.8 L942.6,312.8 L942.2,310.8 L941.8,308.8 L941.5,306.9 L941.1,304.9 L940.9,302.9 L940.6,300.9 L940.4,298.9 L940.2,296.9 L939.9,294.9 L939.7,292.9 L939.5,290.9 L939.2,288.9 L939.0,286.9 L938.8,284.9 L938.5,282.9 L938.3,280.9 L938.1,278.9 L937.8,276.9 L937.6,274.9 L937.4,272.9 L937.1,270.9 L936.9,268.9 L936.7,266.9 L936.4,264.9 L936.2,262.9 L936.0,260.9 L935.7,258.9 Z"/>
<path fill="#656565" d="M746.9,215.4 L748.0,217.2 L749.0,219.1 L749.9,221.0 L750.8,222.9 L751.6,224.9 L752.4,226.9 L753.1,228.9 L753.8,230.9 L754.4,232.9 L755.0,234.9 L755.5,237.0 L756.0,239.0 L756.5,241.0 L757.0,242.9 L757.4,244.9 L757.8,246.8 L758.1,248.7 L758.4,250.5 L758.7,252.4 L758.9,254.1 L759.1,255.8 L759.3,257.5 L759.4,259.1 L759.5,260.6 L759.6,262.0 L759.6,264.0 L759.6,266.1 L759.6,268.1 L759.6,270.2 L759.6,272.2 L759.5,274.3 L759.5,276.3 L759.5,278.4 L759.5,280.4 L759.5,282.5 L759.5,284.5 L759.5,286.6 L759.5,288.6 L759.5,290.7 L759.5,292.7 L759.5,294.8 L759.5,296.8 L759.5,298.9 L759.5,300.9 L759.5,303.0 L759.5,305.1 L759.8,307.3 L760.1,309.3 L760.5,311.4 L760.9,313.4 L761.3,315.5 L761.7,317.5 L762.1,319.6 L762.6,321.6 L763.0,323.6 L763.5,325.6 L764.0,327.6 L764.5,329.5 L765.0,331.5 L765.5,333.4 L766.0,335.4 L766.6,337.3 L767.0,339.2 L767.5,341.0 L768.0,342.9 L768.5,344.7 L768.9,346.5 L769.4,348.3 L770.0,350.7 L770.5,353.0 L771.0,355.3 L771.4,357.4 L771.8,359.6 L772.1,361.6 L772.3,363.6 L772.5,365.6 L772.6,367.5 L772.7,369.4 L772.7,371.2 L772.6,373.0 L772.5,374.8 L772.4,376.6 L772.2,378.3 L772.0,380.1 L771.7,381.8 L771.3,384.5 L770.9,386.9 L770.6,389.2 L770.2,391.4 L769.9,393.4 L769.6,395.2 L769.3,397.0 L768.9,398.5 L768.6,399.9 L769.4,400.1 L769.7,398.7 L770.1,397.1 L770.5,395.4 L770.9,393.6 L771.3,391.6 L771.7,389.4 L772.2,387.2 L772.8,384.7 L773.3,382.2 L773.7,380.4 L774.0,378.6 L774.3,376.8 L774.5,375.0 L774.6,373.1 L774.7,371.3 L774.7,369.4 L774.6,367.4 L774.5,365.5 L774.4,363.4 L774.1,361.4 L773.9,359.3 L773.5,357.1 L773.1,354.9 L772.7,352.6 L772.2,350.2 L771.6,347.7 L771.2,345.9 L770.8,344.1 L770.4,342.3 L769.9,340.4 L769.5,338.5 L769.0,336.6 L768.6,334.7 L768.1,332.8 L767.6,330.9 L767.2,328.9 L766.7,326.9 L766.3,324.9 L765.8,323.0 L765.4,321.0 L765.0,318.9 L764.6,316.9 L764.2,314.9 L763.8,312.9 L763.4,310.9 L763.1,308.9 L762.8,306.8 L762.5,304.9 L762.5,303.0 L762.5,300.9 L762.5,298.9 L762.5,296.8 L762.5,294.8 L762.5,292.7 L762.5,290.7 L762.5,288.6 L762.5,286.6 L762.5,284.5 L762.5,282.5 L762.5,280.4 L762.5,278.4 L762.5,276.3 L762.5,274.3 L762.4,272.2 L762.4,270.2 L762.4,268.1 L762.4,266.1 L762.4,264.0 L762.4,262.0 L762.3,260.4 L762.2,258.9 L762.1,257.2 L761.9,255.5 L761.7,253.8 L761.5,252.0 L761.2,250.1 L760.9,248.2 L760.5,246.3 L760.1,244.3 L759.7,242.3 L759.2,240.3 L758.7,238.3 L758.1,236.2 L757.5,234.2 L756.7,232.1 L756.0,230.1 L755.2,228.1 L754.3,226.1 L753.4,224.1 L752.4,222.2 L751.4,220.2 L750.4,218.3 L749.3,216.4 L748.1,214.6 Z"/>
<path fill="#656565" d="M839.4,216.9 L840.6,219.0 L841.7,221.1 L842.8,223.2 L843.8,225.3 L844.8,227.4 L845.7,229.5 L846.6,231.5 L847.4,233.6 L848.2,235.6 L848.9,237.5 L849.6,239.5 L850.3,241.4 L850.9,243.3 L851.5,245.1 L852.1,246.9 L852.6,248.7 L853.1,250.5 L853.5,252.3 L853.9,254.0 L854.3,255.7 L854.6,257.3 L854.8,259.0 L855.1,260.5 L855.3,262.1 L855.4,263.6 L855.6,265.1 L855.7,267.3 L855.7,269.4 L855.7,271.6 L855.7,273.6 L855.6,275.7 L855.5,277.7 L855.3,279.7 L855.1,281.7 L854.9,283.6 L854.6,285.5 L854.3,287.5 L854.0,289.4 L853.7,291.3 L853.3,293.2 L852.9,295.1 L852.6,297.0 L852.2,298.9 L851.8,300.8 L851.4,302.8 L851.0,305.2 L852.0,307.5 L852.8,309.5 L853.6,311.4 L854.5,313.3 L855.3,315.2 L856.2,317.1 L857.0,318.9 L857.8,320.8 L858.6,322.7 L859.4,324.5 L860.2,326.4 L860.9,328.2 L861.7,330.1 L862.4,332.0 L863.0,333.8 L863.7,335.7 L864.3,337.6 L864.8,339.5 L865.4,341.4 L865.9,343.3 L866.3,345.4 L866.8,347.5 L867.1,349.6 L867.4,351.6 L867.6,353.7 L867.7,355.8 L867.8,357.8 L867.8,359.8 L867.8,361.8 L867.7,363.9 L867.6,365.9 L867.4,367.9 L867.2,369.9 L867.0,371.9 L866.7,373.8 L866.4,375.8 L866.1,377.8 L865.8,379.9 L865.2,383.1 L864.7,385.8 L864.1,388.2 L863.6,390.2 L863.1,392.0 L862.6,393.5 L862.1,394.9 L862.9,395.1 L863.3,393.8 L863.9,392.2 L864.5,390.5 L865.1,388.4 L865.8,386.1 L866.5,383.3 L867.2,380.1 L867.7,378.2 L868.1,376.2 L868.5,374.1 L868.9,372.1 L869.2,370.1 L869.4,368.1 L869.6,366.0 L869.7,364.0 L869.8,361.9 L869.9,359.8 L869.9,357.7 L869.8,355.7 L869.7,353.5 L869.5,351.4 L869.3,349.3 L869.0,347.1 L868.6,344.9 L868.1,342.7 L867.7,340.8 L867.2,338.8 L866.6,336.9 L866.1,334.9 L865.5,333.0 L864.8,331.1 L864.1,329.2 L863.4,327.3 L862.7,325.4 L862.0,323.5 L861.2,321.6 L860.4,319.7 L859.6,317.8 L858.8,315.9 L858.0,314.0 L857.2,312.1 L856.4,310.2 L855.5,308.3 L854.7,306.4 L854.0,304.8 L854.3,303.3 L854.7,301.4 L855.1,299.5 L855.5,297.6 L855.9,295.7 L856.2,293.7 L856.6,291.8 L856.9,289.9 L857.2,287.9 L857.5,286.0 L857.8,284.0 L858.0,282.0 L858.2,280.0 L858.4,277.9 L858.5,275.8 L858.6,273.7 L858.6,271.6 L858.6,269.4 L858.6,267.2 L858.4,264.9 L858.3,263.3 L858.1,261.8 L857.9,260.1 L857.6,258.5 L857.4,256.8 L857.0,255.1 L856.7,253.4 L856.3,251.6 L855.8,249.8 L855.3,248.0 L854.8,246.1 L854.2,244.3 L853.6,242.4 L852.9,240.4 L852.2,238.5 L851.4,236.5 L850.5,234.6 L849.6,232.6 L848.7,230.6 L847.7,228.6 L846.6,226.5 L845.5,224.5 L844.3,222.4 L843.1,220.4 L841.9,218.2 L840.6,216.1 Z"/>
<path fill="#656565" d="M657.6,309.4 L659.3,309.1 L661.0,308.8 L662.8,308.5 L664.7,308.2 L666.5,307.9 L668.4,307.7 L670.3,307.5 L672.2,307.3 L674.2,307.1 L676.2,306.9 L678.2,306.7 L680.3,306.5 L682.4,306.4 L684.5,306.2 L686.6,306.0 L688.8,305.8 L691.0,305.7 L693.3,305.5 L695.5,305.4 L697.8,305.3 L700.2,305.2 L702.5,305.2 L704.8,305.1 L707.1,305.1 L709.4,305.1 L711.7,305.1 L713.9,305.1 L716.1,305.1 L718.3,305.2 L720.5,305.2 L722.7,305.2 L724.8,305.3 L726.9,305.3 L729.0,305.4 L731.1,305.5 L733.1,305.6 L735.2,305.6 L737.2,305.7 L739.1,305.8 L741.1,305.9 L743.0,306.0 L744.9,306.1 L746.8,306.2 L748.7,306.3 L750.5,306.4 L752.3,306.5 L754.1,306.6 L755.8,306.7 L757.5,306.8 L759.2,306.9 L761.1,307.0 L763.4,306.6 L765.5,306.2 L767.6,305.9 L769.7,305.6 L771.9,305.2 L774.0,304.9 L776.1,304.6 L778.3,304.3 L780.4,304.1 L782.5,303.8 L784.6,303.6 L786.7,303.4 L788.7,303.2 L790.8,303.0 L792.8,302.8 L794.8,302.7 L796.8,302.6 L798.7,302.6 L800.6,302.5 L802.5,302.5 L804.6,302.5 L806.7,302.5 L808.8,302.6 L810.9,302.6 L813.0,302.7 L815.1,302.8 L817.1,302.9 L819.2,303.0 L821.3,303.2 L823.4,303.3 L825.4,303.5 L827.5,303.7 L829.5,303.8 L831.5,304.0 L833.5,304.2 L835.5,304.4 L837.5,304.6 L839.4,304.9 L841.3,305.1 L843.2,305.3 L845.1,305.5 L846.9,305.8 L848.8,306.0 L850.5,306.2 L852.5,306.5 L854.7,306.3 L856.8,306.2 L858.9,306.1 L861.0,305.9 L863.1,305.8 L865.2,305.7 L867.3,305.6 L869.4,305.5 L871.5,305.4 L873.6,305.4 L875.7,305.3 L877.7,305.3 L879.8,305.2 L881.9,305.2 L883.9,305.2 L886.0,305.2 L888.0,305.2 L890.0,305.2 L892.4,305.2 L894.7,305.2 L897.1,305.3 L899.4,305.4 L901.7,305.5 L903.9,305.5 L906.2,305.6 L908.4,305.8 L910.6,305.9 L912.7,306.0 L914.8,306.1 L916.9,306.2 L918.9,306.4 L920.9,306.5 L922.9,306.6 L924.8,306.7 L926.7,306.8 L928.5,306.9 L930.3,307.0 L932.1,307.1 L933.7,307.3 L935.4,307.4 L937.0,307.6 L938.5,307.7 L940.0,307.9 L940.0,307.1 L938.6,306.9 L937.1,306.7 L935.5,306.5 L933.8,306.3 L932.2,306.1 L930.4,305.9 L928.7,305.6 L926.8,305.4 L925.0,305.2 L923.0,305.0 L921.1,304.8 L919.1,304.6 L917.0,304.4 L915.0,304.2 L912.8,304.0 L910.7,303.9 L908.5,303.8 L906.3,303.6 L904.0,303.5 L901.8,303.4 L899.5,303.3 L897.1,303.1 L894.8,303.0 L892.4,302.9 L890.0,302.8 L888.0,302.8 L886.0,302.7 L883.9,302.7 L881.9,302.7 L879.8,302.6 L877.7,302.6 L875.6,302.6 L873.5,302.6 L871.4,302.7 L869.3,302.7 L867.2,302.7 L865.1,302.8 L862.9,302.9 L860.8,303.0 L858.7,303.1 L856.6,303.2 L854.5,303.3 L852.5,303.5 L850.9,303.3 L849.2,303.0 L847.3,302.8 L845.5,302.6 L843.6,302.3 L841.7,302.1 L839.8,301.9 L837.8,301.7 L835.8,301.4 L833.8,301.2 L831.8,301.0 L829.8,300.8 L827.7,300.7 L825.7,300.5 L823.6,300.3 L821.5,300.2 L819.4,300.1 L817.3,299.9 L815.2,299.8 L813.1,299.7 L811.0,299.6 L808.9,299.6 L806.7,299.5 L804.6,299.5 L802.5,299.5 L800.6,299.5 L798.6,299.6 L796.7,299.6 L794.6,299.7 L792.6,299.9 L790.6,300.0 L788.5,300.2 L786.4,300.4 L784.3,300.6 L782.1,300.8 L780.0,301.1 L777.9,301.3 L775.7,301.6 L773.6,301.9 L771.4,302.3 L769.3,302.6 L767.1,302.9 L765.0,303.3 L762.9,303.7 L760.9,304.0 L759.4,303.9 L757.7,303.8 L756.0,303.7 L754.2,303.6 L752.5,303.5 L750.6,303.4 L748.8,303.3 L746.9,303.2 L745.1,303.1 L743.1,303.1 L741.2,303.0 L739.2,302.9 L737.3,302.9 L735.2,302.8 L733.2,302.8 L731.2,302.7 L729.1,302.7 L727.0,302.6 L724.8,302.6 L722.7,302.6 L720.5,302.6 L718.3,302.6 L716.1,302.6 L713.9,302.6 L711.7,302.7 L709.4,302.7 L707.1,302.7 L704.8,302.8 L702.5,302.8 L700.1,302.9 L697.7,303.0 L695.4,303.2 L693.1,303.3 L690.9,303.5 L688.7,303.6 L686.5,303.8 L684.3,304.0 L682.2,304.2 L680.1,304.5 L678.0,304.8 L676.0,305.1 L674.0,305.4 L672.0,305.8 L670.1,306.1 L668.2,306.5 L666.3,306.8 L664.5,307.2 L662.7,307.5 L660.9,307.9 L659.1,308.3 L657.4,308.6 Z"/>
<path fill="#656565" d="M952.5,360.5 L954.5,360.6 L956.5,360.8 L958.5,361.1 L960.5,361.4 L962.6,361.7 L964.6,362.0 L966.6,362.3 L968.6,362.6 L970.6,362.8 L972.7,362.9 L974.7,363.0 L976.7,363.1 L978.7,363.2 L980.8,363.3 L982.8,363.4 L984.8,363.5 L986.8,363.6 L988.9,363.7 L990.9,363.8 L992.9,363.9 L994.9,364.0 L997.0,364.1 L999.0,364.2 L1001.0,364.3 L1003.1,364.4 L1005.1,364.5 L1007.1,364.5 L1009.1,364.6 L1011.2,364.7 L1013.2,364.8 L1015.2,364.9 L1017.2,365.0 L1019.3,365.1 L1021.3,365.2 L1023.3,365.3 L1025.3,365.4 L1027.4,365.5 L1029.4,365.6 L1031.4,365.7 L1033.5,365.8 L1035.5,365.9 L1037.5,366.0 L1039.5,366.1 L1041.6,366.2 L1043.6,366.3 L1045.6,366.4 L1047.6,366.5 L1049.7,366.6 L1051.7,366.7 L1053.7,366.8 L1055.8,366.8 L1057.8,366.9 L1059.8,366.9 L1061.8,366.9 L1063.9,366.8 L1065.9,366.8 L1068.3,366.9 L1070.5,367.1 L1072.2,367.5 L1073.7,368.1 L1074.9,368.9 L1075.8,369.7 L1076.5,370.7 L1077.0,371.9 L1077.3,373.3 L1077.4,375.0 L1077.4,376.9 L1077.3,378.9 L1077.3,380.9 L1077.2,382.9 L1077.1,384.9 L1077.1,386.9 L1077.0,389.0 L1077.0,391.0 L1076.9,393.0 L1076.8,395.0 L1076.8,397.0 L1076.7,398.8 L1076.4,400.1 L1075.7,401.1 L1074.5,402.0 L1072.6,402.8 L1069.9,403.3 L1070.1,404.3 L1072.8,404.1 L1075.2,403.7 L1077.1,402.7 L1078.3,401.1 L1078.9,399.2 L1079.0,397.0 L1079.1,395.0 L1079.2,393.0 L1079.3,391.0 L1079.4,389.0 L1079.5,387.1 L1079.6,385.1 L1079.7,383.1 L1079.8,381.1 L1079.9,379.1 L1080.1,377.1 L1080.2,375.0 L1080.0,373.0 L1079.7,371.1 L1079.0,369.4 L1078.0,367.9 L1076.6,366.6 L1075.1,365.6 L1073.2,364.8 L1071.1,364.1 L1068.8,363.6 L1066.1,363.2 L1064.1,363.0 L1062.0,362.8 L1060.0,362.5 L1058.0,362.3 L1056.0,362.2 L1054.0,362.0 L1051.9,361.9 L1049.9,361.8 L1047.9,361.7 L1045.8,361.6 L1043.8,361.5 L1041.8,361.4 L1039.8,361.3 L1037.7,361.2 L1035.7,361.1 L1033.7,361.0 L1031.7,360.9 L1029.6,360.8 L1027.6,360.7 L1025.6,360.6 L1023.6,360.5 L1021.5,360.4 L1019.5,360.3 L1017.5,360.2 L1015.4,360.1 L1013.4,360.0 L1011.4,360.0 L1009.4,359.9 L1007.3,359.8 L1005.3,359.7 L1003.3,359.6 L1001.3,359.5 L999.2,359.4 L997.2,359.3 L995.2,359.2 L993.2,359.1 L991.1,359.0 L989.1,358.9 L987.1,358.8 L985.0,358.7 L983.0,358.6 L981.0,358.5 L979.0,358.4 L976.9,358.3 L974.9,358.2 L972.9,358.1 L970.9,358.0 L968.8,358.0 L966.8,358.1 L964.8,358.2 L962.7,358.3 L960.7,358.4 L958.6,358.5 L956.6,358.5 L954.6,358.6 L952.5,358.5 Z"/>
<path fill="#656565" d="M955.0,396.5 L957.0,396.7 L959.1,396.8 L961.1,397.0 L963.1,397.2 L965.2,397.4 L967.2,397.6 L969.3,397.9 L971.3,398.1 L973.3,398.3 L975.4,398.5 L977.4,398.7 L979.5,398.9 L981.5,399.2 L983.5,399.4 L985.6,399.6 L987.6,399.8 L989.7,399.9 L991.7,400.1 L993.8,400.3 L995.8,400.5 L997.9,400.6 L999.9,400.8 L1001.9,401.1 L1003.9,401.3 L1005.9,401.5 L1007.9,401.7 L1009.9,402.0 L1011.9,402.2 L1013.9,402.5 L1015.8,402.7 L1017.8,402.9 L1019.8,403.1 L1021.8,403.4 L1023.8,403.6 L1025.8,403.8 L1027.8,404.0 L1029.8,404.1 L1031.8,404.3 L1033.8,404.4 L1035.8,404.6 L1037.8,404.8 L1039.8,404.9 L1041.8,405.1 L1043.8,405.2 L1045.8,405.4 L1047.8,405.5 L1049.8,405.7 L1051.8,405.9 L1053.8,406.0 L1055.8,406.2 L1057.8,406.3 L1059.8,406.5 L1061.8,406.7 L1063.8,406.8 L1065.8,407.0 L1067.8,407.1 L1069.8,407.3 L1071.9,407.4 L1074.0,407.5 L1076.1,407.6 L1078.1,407.7 L1080.2,407.7 L1082.2,407.7 L1084.3,407.7 L1086.4,407.7 L1088.4,407.7 L1090.5,407.7 L1092.6,407.7 L1094.6,407.6 L1096.7,407.6 L1098.8,407.6 L1100.8,407.5 L1102.9,407.5 L1105.0,407.5 L1107.0,407.5 L1109.0,407.5 L1111.0,407.4 L1113.0,407.5 L1115.0,407.5 L1117.0,407.5 L1119.0,407.5 L1121.0,407.5 L1123.0,407.5 L1125.0,407.5 L1127.0,407.5 L1129.0,407.5 L1131.0,407.5 L1133.0,407.5 L1135.0,407.5 L1137.0,407.4 L1139.0,407.5 L1141.0,407.5 L1143.0,407.5 L1143.0,406.5 L1141.0,406.5 L1139.0,406.4 L1137.0,406.3 L1135.0,406.3 L1133.0,406.2 L1131.0,406.1 L1129.0,406.0 L1127.0,405.9 L1125.0,405.8 L1123.0,405.7 L1121.0,405.7 L1119.0,405.6 L1117.0,405.5 L1115.0,405.5 L1113.0,405.4 L1111.0,405.4 L1109.0,405.3 L1107.0,405.2 L1105.0,405.1 L1103.0,404.9 L1100.9,404.8 L1098.9,404.6 L1096.8,404.4 L1094.7,404.3 L1092.7,404.1 L1090.6,403.9 L1088.6,403.8 L1086.5,403.6 L1084.4,403.5 L1082.4,403.4 L1080.3,403.3 L1078.3,403.2 L1076.2,403.1 L1074.1,403.0 L1072.1,403.0 L1070.2,402.8 L1068.2,402.6 L1066.2,402.5 L1064.2,402.3 L1062.2,402.2 L1060.2,402.0 L1058.2,401.8 L1056.2,401.7 L1054.2,401.5 L1052.2,401.4 L1050.2,401.2 L1048.2,401.1 L1046.2,400.9 L1044.2,400.7 L1042.2,400.6 L1040.2,400.4 L1038.2,400.3 L1036.2,400.1 L1034.2,399.9 L1032.2,399.8 L1030.2,399.6 L1028.2,399.5 L1026.2,399.3 L1024.2,399.2 L1022.2,399.1 L1020.2,399.0 L1018.2,398.9 L1016.2,398.8 L1014.1,398.8 L1012.1,398.7 L1010.1,398.6 L1008.1,398.5 L1006.1,398.4 L1004.1,398.3 L1002.1,398.3 L1000.1,398.2 L998.1,398.0 L996.0,397.9 L994.0,397.8 L991.9,397.6 L989.9,397.5 L987.8,397.3 L985.8,397.2 L983.7,397.1 L981.7,397.0 L979.6,396.9 L977.6,396.8 L975.5,396.7 L973.5,396.6 L971.4,396.5 L969.4,396.4 L967.3,396.3 L965.3,396.2 L963.2,396.0 L961.2,395.9 L959.1,395.8 L957.1,395.7 L955.0,395.5 Z"/>
<ellipse cx="975" cy="356.5" rx="22.5" ry="2.8" fill="#656565"/>
<ellipse cx="1125" cy="368" rx="42.5" ry="2.4" fill="#656565"/>
<path fill="#656565" d="M290.0,444.5 L292.0,444.4 L294.0,444.4 L296.1,444.4 L298.1,444.3 L300.1,444.3 L302.1,444.2 L304.1,444.2 L306.1,444.1 L308.1,444.1 L310.1,444.0 L312.1,444.0 L314.1,444.0 L316.1,443.9 L318.1,443.9 L320.1,443.9 L322.1,443.8 L324.1,443.8 L326.1,443.8 L328.1,443.7 L330.1,443.7 L332.2,443.6 L334.2,443.6 L336.2,443.6 L338.2,443.5 L340.2,443.5 L342.2,443.5 L344.2,443.4 L346.2,443.4 L348.2,443.4 L350.2,443.3 L352.2,443.3 L354.2,443.3 L356.2,443.2 L358.2,443.2 L360.2,443.1 L362.2,443.1 L364.2,443.1 L366.2,443.0 L368.2,443.0 L370.3,442.9 L372.3,442.9 L374.3,442.8 L376.3,442.8 L378.3,442.7 L380.3,442.7 L382.3,442.6 L384.3,442.6 L386.3,442.5 L388.3,442.5 L390.3,442.4 L392.3,442.4 L394.3,442.3 L396.3,442.3 L398.3,442.2 L400.3,442.2 L402.3,442.1 L404.3,442.0 L406.3,442.0 L408.3,441.9 L410.4,441.9 L412.4,441.8 L414.4,441.8 L416.4,441.7 L418.4,441.7 L420.4,441.6 L422.4,441.6 L424.4,441.5 L426.4,441.5 L428.4,441.4 L430.4,441.4 L432.4,441.3 L434.4,441.3 L436.4,441.2 L438.4,441.2 L440.4,441.1 L442.4,441.1 L444.4,441.0 L446.4,441.0 L448.4,440.9 L450.5,440.9 L452.5,440.8 L454.5,440.8 L456.5,440.7 L458.5,440.7 L460.5,440.6 L462.5,440.5 L464.5,440.5 L466.5,440.4 L468.5,440.4 L470.5,440.3 L472.5,440.3 L474.5,440.2 L476.5,440.2 L478.5,440.1 L480.5,440.1 L482.5,440.0 L484.5,440.0 L486.5,439.9 L488.5,439.9 L490.6,439.8 L492.6,439.8 L494.6,439.7 L496.6,439.7 L498.6,439.6 L500.6,439.6 L502.6,439.5 L504.6,439.5 L506.6,439.4 L508.6,439.4 L510.6,439.3 L512.6,439.3 L514.6,439.2 L516.6,439.2 L518.6,439.1 L520.6,439.0 L522.6,439.0 L524.6,438.9 L526.6,438.9 L528.6,438.8 L530.7,438.8 L532.7,438.7 L534.7,438.7 L536.7,438.6 L538.7,438.6 L540.7,438.5 L542.7,438.5 L544.7,438.4 L546.7,438.4 L548.7,438.3 L550.7,438.3 L552.7,438.2 L554.7,438.2 L556.7,438.1 L558.7,438.1 L560.7,438.0 L562.7,438.0 L564.7,437.9 L566.7,437.9 L568.8,437.8 L570.8,437.8 L572.8,437.7 L574.8,437.6 L576.8,437.6 L578.8,437.5 L580.8,437.5 L582.8,437.4 L584.8,437.4 L586.8,437.3 L588.8,437.3 L590.8,437.2 L592.8,437.2 L594.8,437.1 L596.8,437.1 L598.8,437.0 L600.8,437.0 L602.8,436.9 L604.8,436.9 L606.8,436.8 L608.9,436.8 L610.9,436.7 L612.9,436.7 L614.9,436.6 L616.9,436.6 L618.9,436.5 L620.9,436.5 L622.9,436.4 L624.9,436.4 L626.9,436.3 L628.9,436.3 L630.9,436.2 L632.9,436.1 L634.9,436.1 L636.9,436.0 L638.9,436.0 L640.9,435.9 L642.9,435.9 L644.9,435.8 L646.9,435.8 L649.0,435.7 L651.0,435.7 L653.0,435.6 L655.0,435.6 L657.0,435.5 L659.0,435.5 L661.0,435.4 L663.0,435.4 L665.0,435.3 L667.0,435.3 L669.0,435.2 L671.0,435.2 L673.0,435.1 L675.0,435.1 L677.0,435.0 L679.0,435.0 L681.0,434.9 L683.0,434.9 L685.0,434.8 L687.0,434.8 L689.1,434.7 L691.1,434.6 L693.1,434.6 L695.1,434.5 L697.1,434.5 L699.1,434.4 L701.1,434.4 L703.1,434.3 L705.1,434.2 L707.1,434.2 L709.1,434.1 L711.1,434.1 L713.1,434.0 L715.1,434.0 L717.1,433.9 L719.1,433.9 L721.1,433.8 L723.1,433.7 L725.2,433.7 L727.2,433.6 L729.2,433.6 L731.2,433.5 L733.2,433.5 L735.2,433.4 L737.2,433.4 L739.2,433.3 L741.2,433.2 L743.2,433.2 L745.2,433.1 L747.2,433.1 L749.2,433.0 L751.2,433.0 L753.2,432.9 L755.2,432.8 L757.2,432.8 L759.2,432.7 L761.3,432.7 L763.3,432.6 L765.3,432.6 L767.3,432.5 L769.3,432.5 L771.3,432.4 L773.3,432.3 L775.3,432.3 L777.3,432.2 L779.3,432.2 L781.3,432.1 L783.3,432.1 L785.3,432.0 L787.3,431.9 L789.3,431.9 L791.3,431.8 L793.3,431.8 L795.3,431.7 L797.3,431.7 L799.4,431.6 L801.4,431.6 L803.4,431.5 L805.4,431.4 L807.4,431.4 L809.4,431.3 L811.4,431.3 L813.4,431.2 L815.4,431.2 L817.4,431.1 L819.4,431.0 L821.4,431.0 L823.4,430.9 L825.4,430.9 L827.4,430.8 L829.4,430.8 L831.4,430.7 L833.4,430.7 L835.5,430.6 L837.5,430.5 L839.5,430.5 L841.5,430.4 L843.5,430.4 L845.5,430.3 L847.5,430.3 L849.5,430.2 L851.5,430.1 L853.5,430.1 L855.5,430.0 L857.5,430.0 L859.5,429.9 L861.5,429.9 L863.5,429.8 L865.5,429.8 L867.5,429.7 L869.5,429.6 L871.5,429.6 L873.6,429.5 L875.6,429.5 L877.6,429.4 L879.6,429.4 L881.6,429.3 L883.6,429.2 L885.6,429.2 L887.6,429.1 L889.6,429.1 L891.6,429.0 L893.6,429.0 L895.6,428.9 L897.6,428.9 L899.6,428.8 L901.6,428.7 L903.6,428.7 L905.6,428.6 L907.6,428.6 L909.7,428.5 L911.7,428.5 L913.7,428.4 L915.7,428.3 L917.7,428.3 L919.7,428.2 L921.7,428.2 L923.7,428.1 L925.7,428.1 L927.7,428.0 L929.7,428.0 L931.7,427.9 L933.7,427.8 L935.7,427.8 L937.7,427.7 L939.7,427.7 L941.7,427.6 L943.7,427.6 L945.7,427.5 L947.8,427.4 L949.8,427.4 L951.8,427.3 L953.8,427.3 L955.8,427.2 L957.8,427.2 L959.8,427.1 L961.8,427.1 L963.8,427.0 L965.8,426.9 L967.8,426.9 L969.8,426.8 L971.8,426.8 L973.8,426.7 L975.8,426.7 L977.8,426.6 L979.8,426.5 L981.8,426.5 L983.9,426.4 L985.9,426.4 L987.9,426.3 L989.9,426.3 L991.9,426.2 L993.9,426.2 L995.9,426.1 L997.9,426.0 L999.9,426.0 L1001.9,425.9 L1003.9,425.9 L1005.9,425.8 L1007.9,425.8 L1009.9,425.7 L1011.9,425.6 L1013.9,425.6 L1015.9,425.5 L1017.9,425.5 L1019.9,425.4 L1022.0,425.4 L1024.0,425.3 L1026.0,425.3 L1028.0,425.2 L1030.0,425.1 L1032.0,425.1 L1034.0,425.0 L1036.0,425.0 L1038.0,424.9 L1040.0,424.9 L1042.0,424.8 L1044.0,424.7 L1046.0,424.6 L1048.0,424.5 L1050.0,424.4 L1052.0,424.3 L1054.0,424.2 L1056.0,424.1 L1058.0,423.9 L1060.0,423.8 L1062.0,423.7 L1064.0,423.5 L1066.0,423.4 L1068.0,423.3 L1070.0,423.1 L1072.0,423.0 L1074.0,422.9 L1076.0,422.7 L1078.0,422.6 L1080.0,422.5 L1082.0,422.5 L1084.0,422.4 L1086.0,422.3 L1088.0,422.2 L1090.0,422.2 L1092.0,422.1 L1094.0,422.0 L1096.0,422.0 L1098.0,421.9 L1100.0,421.8 L1102.0,421.7 L1104.0,421.7 L1106.0,421.6 L1108.0,421.5 L1110.0,421.4 L1112.0,421.4 L1114.0,421.3 L1116.0,421.2 L1118.0,421.1 L1120.0,421.1 L1122.0,421.0 L1124.0,420.9 L1126.0,420.8 L1128.0,420.7 L1130.0,420.7 L1132.0,420.6 L1134.0,420.5 L1136.0,420.4 L1138.0,420.4 L1140.0,420.3 L1142.0,420.2 L1144.0,420.1 L1146.0,420.0 L1148.0,420.0 L1150.0,419.9 L1152.0,419.8 L1154.0,419.7 L1156.0,419.7 L1158.0,419.6 L1160.0,419.5 L1162.0,419.4 L1164.0,419.4 L1166.0,419.3 L1168.0,419.2 L1170.0,419.2 L1172.0,419.1 L1172.0,417.9 L1170.0,418.0 L1168.0,418.0 L1166.0,418.1 L1164.0,418.2 L1162.0,418.2 L1160.0,418.3 L1158.0,418.4 L1156.0,418.4 L1154.0,418.5 L1152.0,418.5 L1150.0,418.6 L1148.0,418.7 L1146.0,418.7 L1144.0,418.8 L1142.0,418.8 L1140.0,418.9 L1138.0,419.0 L1136.0,419.0 L1134.0,419.1 L1132.0,419.1 L1130.0,419.2 L1128.0,419.2 L1126.0,419.3 L1124.0,419.4 L1122.0,419.4 L1120.0,419.5 L1118.0,419.5 L1116.0,419.6 L1114.0,419.6 L1112.0,419.7 L1110.0,419.8 L1108.0,419.8 L1106.0,419.9 L1104.0,419.9 L1102.0,420.0 L1100.0,420.1 L1098.0,420.1 L1096.0,420.2 L1094.0,420.3 L1092.0,420.3 L1090.0,420.4 L1088.0,420.5 L1086.0,420.5 L1084.0,420.6 L1082.0,420.6 L1080.0,420.7 L1078.0,420.7 L1076.0,420.8 L1074.0,420.8 L1072.0,420.8 L1070.0,420.8 L1068.0,420.8 L1066.0,420.8 L1064.0,420.8 L1062.0,420.8 L1060.0,420.8 L1058.0,420.8 L1055.9,420.8 L1053.9,420.7 L1051.9,420.7 L1049.9,420.7 L1047.9,420.7 L1045.9,420.8 L1043.9,420.8 L1041.9,420.8 L1039.9,420.9 L1037.9,420.9 L1035.9,421.0 L1033.9,421.0 L1031.9,421.1 L1029.9,421.1 L1027.9,421.2 L1025.9,421.3 L1023.8,421.3 L1021.8,421.4 L1019.8,421.4 L1017.8,421.5 L1015.8,421.5 L1013.8,421.6 L1011.8,421.6 L1009.8,421.7 L1007.8,421.8 L1005.8,421.8 L1003.8,421.9 L1001.8,421.9 L999.8,422.0 L997.8,422.0 L995.8,422.1 L993.8,422.2 L991.8,422.2 L989.8,422.3 L987.7,422.3 L985.7,422.4 L983.7,422.4 L981.7,422.5 L979.7,422.5 L977.7,422.6 L975.7,422.7 L973.7,422.7 L971.7,422.8 L969.7,422.8 L967.7,422.9 L965.7,422.9 L963.7,423.0 L961.7,423.1 L959.7,423.1 L957.7,423.2 L955.7,423.2 L953.7,423.3 L951.7,423.3 L949.6,423.4 L947.6,423.4 L945.6,423.5 L943.6,423.6 L941.6,423.6 L939.6,423.7 L937.6,423.7 L935.6,423.8 L933.6,423.8 L931.6,423.9 L929.6,424.0 L927.6,424.0 L925.6,424.1 L923.6,424.1 L921.6,424.2 L919.6,424.2 L917.6,424.3 L915.6,424.3 L913.5,424.4 L911.5,424.5 L909.5,424.5 L907.5,424.6 L905.5,424.6 L903.5,424.7 L901.5,424.7 L899.5,424.8 L897.5,424.9 L895.5,424.9 L893.5,425.0 L891.5,425.0 L889.5,425.1 L887.5,425.1 L885.5,425.2 L883.5,425.2 L881.5,425.3 L879.5,425.4 L877.5,425.4 L875.4,425.5 L873.4,425.5 L871.4,425.6 L869.4,425.6 L867.4,425.7 L865.4,425.8 L863.4,425.8 L861.4,425.9 L859.4,425.9 L857.4,426.0 L855.4,426.0 L853.4,426.1 L851.4,426.1 L849.4,426.2 L847.4,426.3 L845.4,426.3 L843.4,426.4 L841.4,426.4 L839.3,426.5 L837.3,426.5 L835.3,426.6 L833.3,426.7 L831.3,426.7 L829.3,426.8 L827.3,426.8 L825.3,426.9 L823.3,426.9 L821.3,427.0 L819.3,427.0 L817.3,427.1 L815.3,427.2 L813.3,427.2 L811.3,427.3 L809.3,427.3 L807.3,427.4 L805.3,427.4 L803.3,427.5 L801.2,427.6 L799.2,427.6 L797.2,427.7 L795.2,427.7 L793.2,427.8 L791.2,427.8 L789.2,427.9 L787.2,427.9 L785.2,428.0 L783.2,428.1 L781.2,428.1 L779.2,428.2 L777.2,428.2 L775.2,428.3 L773.2,428.3 L771.2,428.4 L769.2,428.5 L767.2,428.5 L765.1,428.6 L763.1,428.6 L761.1,428.7 L759.1,428.7 L757.1,428.8 L755.1,428.8 L753.1,428.9 L751.1,429.0 L749.1,429.0 L747.1,429.1 L745.1,429.1 L743.1,429.2 L741.1,429.2 L739.1,429.3 L737.1,429.4 L735.1,429.4 L733.1,429.5 L731.1,429.5 L729.1,429.6 L727.0,429.6 L725.0,429.7 L723.0,429.7 L721.0,429.8 L719.0,429.9 L717.0,429.9 L715.0,430.0 L713.0,430.0 L711.0,430.1 L709.0,430.1 L707.0,430.2 L705.0,430.3 L703.0,430.3 L701.0,430.4 L699.0,430.4 L697.0,430.5 L695.0,430.5 L693.0,430.6 L690.9,430.6 L688.9,430.7 L686.9,430.8 L684.9,430.8 L682.9,430.9 L680.9,430.9 L678.9,431.0 L676.9,431.0 L674.9,431.1 L672.9,431.1 L670.9,431.2 L668.9,431.2 L666.9,431.3 L664.9,431.3 L662.9,431.4 L660.9,431.4 L658.9,431.5 L656.9,431.5 L654.9,431.6 L652.9,431.6 L650.9,431.7 L648.8,431.7 L646.8,431.8 L644.8,431.8 L642.8,431.9 L640.8,431.9 L638.8,432.0 L636.8,432.0 L634.8,432.1 L632.8,432.1 L630.8,432.2 L628.8,432.3 L626.8,432.3 L624.8,432.4 L622.8,432.4 L620.8,432.5 L618.8,432.5 L616.8,432.6 L614.8,432.6 L612.8,432.7 L610.8,432.7 L608.7,432.8 L606.7,432.8 L604.7,432.9 L602.7,432.9 L600.7,433.0 L598.7,433.0 L596.7,433.1 L594.7,433.1 L592.7,433.2 L590.7,433.2 L588.7,433.3 L586.7,433.3 L584.7,433.4 L582.7,433.4 L580.7,433.5 L578.7,433.5 L576.7,433.6 L574.7,433.7 L572.7,433.7 L570.7,433.8 L568.6,433.8 L566.6,433.9 L564.6,433.9 L562.6,434.0 L560.6,434.0 L558.6,434.1 L556.6,434.1 L554.6,434.2 L552.6,434.2 L550.6,434.3 L548.6,434.3 L546.6,434.4 L544.6,434.4 L542.6,434.5 L540.6,434.5 L538.6,434.6 L536.6,434.6 L534.6,434.7 L532.6,434.7 L530.6,434.8 L528.5,434.8 L526.5,434.9 L524.5,434.9 L522.5,435.0 L520.5,435.0 L518.5,435.1 L516.5,435.2 L514.5,435.2 L512.5,435.3 L510.5,435.3 L508.5,435.4 L506.5,435.4 L504.5,435.5 L502.5,435.5 L500.5,435.6 L498.5,435.6 L496.5,435.7 L494.5,435.7 L492.5,435.8 L490.5,435.8 L488.4,435.9 L486.4,435.9 L484.4,436.0 L482.4,436.0 L480.4,436.1 L478.4,436.1 L476.4,436.2 L474.4,436.2 L472.4,436.3 L470.4,436.3 L468.4,436.4 L466.4,436.4 L464.4,436.5 L462.4,436.5 L460.4,436.6 L458.4,436.7 L456.4,436.7 L454.4,436.8 L452.4,436.8 L450.4,436.9 L448.3,436.9 L446.3,437.0 L444.3,437.0 L442.3,437.1 L440.3,437.1 L438.3,437.2 L436.3,437.2 L434.3,437.3 L432.3,437.3 L430.3,437.4 L428.3,437.4 L426.3,437.5 L424.3,437.5 L422.3,437.6 L420.3,437.6 L418.3,437.7 L416.3,437.7 L414.3,437.8 L412.3,437.8 L410.2,437.9 L408.2,437.9 L406.2,438.0 L404.2,438.1 L402.2,438.1 L400.2,438.2 L398.2,438.2 L396.2,438.3 L394.2,438.3 L392.2,438.4 L390.2,438.4 L388.2,438.5 L386.2,438.5 L384.2,438.6 L382.2,438.6 L380.2,438.7 L378.2,438.7 L376.2,438.8 L374.2,438.8 L372.2,438.9 L370.1,438.9 L368.1,439.0 L366.1,439.1 L364.1,439.1 L362.1,439.2 L360.1,439.2 L358.1,439.3 L356.1,439.4 L354.1,439.4 L352.1,439.5 L350.1,439.6 L348.1,439.6 L346.1,439.7 L344.1,439.8 L342.1,439.8 L340.1,439.9 L338.1,440.0 L336.1,440.0 L334.1,440.1 L332.1,440.2 L330.1,440.2 L328.1,440.3 L326.0,440.4 L324.0,440.5 L322.0,440.5 L320.0,440.6 L318.0,440.7 L316.0,440.7 L314.0,440.8 L312.0,440.9 L310.0,440.9 L308.0,441.0 L306.0,441.0 L304.0,441.1 L302.0,441.2 L300.0,441.2 L298.0,441.3 L296.0,441.3 L294.0,441.4 L292.0,441.4 L290.0,441.5 Z"/>
<path fill="#656565" d="M288.0,446.9 L287.8,448.7 L287.7,450.5 L287.5,452.4 L287.3,454.3 L287.1,456.2 L286.9,458.2 L286.6,460.2 L286.4,462.3 L286.3,464.3 L286.1,466.4 L285.9,468.5 L285.8,470.7 L285.7,472.8 L285.6,475.0 L285.5,477.2 L285.4,479.4 L285.3,481.6 L285.2,483.9 L285.1,486.1 L285.0,488.4 L285.0,490.6 L284.9,492.9 L284.8,495.2 L284.8,497.4 L284.7,499.7 L284.7,502.0 L284.7,504.2 L284.6,506.5 L284.6,508.7 L284.6,511.0 L284.6,513.2 L284.6,515.4 L284.6,517.6 L284.6,519.8 L284.6,522.0 L284.6,524.1 L284.6,526.2 L284.6,528.3 L284.6,530.4 L284.7,532.5 L284.7,534.5 L284.8,536.5 L284.8,538.4 L284.9,540.4 L284.9,542.2 L285.0,544.1 L285.1,545.9 L285.1,547.7 L285.2,549.4 L285.3,551.1 L285.5,552.7 L285.6,554.3 L285.7,555.8 L285.9,557.3 L286.0,558.8 L286.2,560.1 L286.3,562.8 L286.4,565.4 L286.5,568.0 L286.6,570.5 L286.7,572.9 L286.8,575.3 L286.9,577.6 L287.0,579.8 L287.1,582.0 L287.1,584.1 L287.2,586.2 L287.3,588.2 L287.3,590.2 L287.3,592.1 L287.4,594.0 L287.5,595.8 L287.6,597.6 L287.7,599.4 L287.8,601.1 L287.8,602.8 L288.0,604.4 L288.1,606.1 L288.2,607.7 L288.3,609.3 L288.4,610.9 L288.5,612.5 L288.6,614.0 L289.4,614.0 L289.3,612.4 L289.2,610.8 L289.1,609.3 L289.1,607.7 L289.0,606.0 L289.0,604.4 L288.9,602.7 L288.9,601.0 L288.9,599.3 L288.9,597.6 L288.9,595.8 L288.8,593.9 L288.8,592.1 L288.8,590.1 L288.8,588.2 L288.7,586.2 L288.7,584.1 L288.7,582.0 L288.7,579.8 L288.7,577.6 L288.7,575.3 L288.7,572.9 L288.8,570.5 L288.8,568.0 L288.8,565.4 L288.8,562.7 L288.8,559.9 L288.7,558.5 L288.6,557.1 L288.5,555.6 L288.5,554.1 L288.4,552.5 L288.3,550.9 L288.2,549.2 L288.1,547.5 L288.1,545.8 L288.0,544.0 L287.9,542.1 L287.9,540.3 L287.8,538.3 L287.8,536.4 L287.7,534.4 L287.7,532.4 L287.7,530.4 L287.6,528.3 L287.6,526.2 L287.6,524.1 L287.6,522.0 L287.6,519.8 L287.6,517.6 L287.6,515.4 L287.7,513.2 L287.7,511.0 L287.7,508.8 L287.7,506.5 L287.8,504.3 L287.8,502.0 L287.9,499.8 L287.9,497.5 L288.0,495.2 L288.1,493.0 L288.1,490.7 L288.2,488.5 L288.3,486.2 L288.4,484.0 L288.5,481.7 L288.5,479.5 L288.6,477.3 L288.7,475.1 L288.9,473.0 L289.0,470.8 L289.0,468.7 L289.1,466.6 L289.2,464.5 L289.2,462.4 L289.3,460.4 L289.4,458.4 L289.4,456.4 L289.5,454.5 L289.6,452.6 L289.7,450.7 L289.8,448.9 L290.0,447.1 Z"/>
<path fill="#656565" d="M396.9,425.6 L398.7,426.0 L400.5,426.6 L402.1,427.3 L403.7,428.1 L405.2,428.9 L406.6,429.9 L407.9,430.9 L409.1,431.9 L410.3,433.1 L411.4,434.3 L412.4,435.6 L413.4,436.9 L414.3,438.3 L415.2,439.8 L415.9,441.4 L416.6,443.1 L417.2,444.9 L417.8,446.8 L418.2,448.7 L418.6,450.8 L418.9,452.9 L419.2,455.1 L419.4,457.9 L419.6,460.6 L419.8,463.3 L419.9,465.9 L420.1,468.5 L420.3,471.0 L420.5,473.5 L420.7,475.9 L420.8,478.2 L421.0,480.5 L421.2,482.7 L421.3,484.9 L421.5,487.1 L421.6,489.2 L421.7,491.3 L421.9,493.3 L422.0,495.3 L422.1,497.2 L422.2,499.2 L422.3,501.1 L422.4,502.9 L422.5,504.7 L422.6,506.5 L422.7,508.3 L422.7,510.1 L422.8,511.8 L422.9,513.5 L422.9,515.2 L422.9,516.9 L423.0,518.5 L423.0,520.2 L423.0,521.8 L423.0,523.5 L423.0,525.1 L423.0,526.7 L422.9,528.3 L422.9,530.0 L422.8,532.6 L422.8,535.2 L422.8,537.8 L422.7,540.3 L422.6,542.8 L422.6,545.3 L422.5,547.8 L422.4,550.3 L422.4,552.7 L422.3,555.1 L422.2,557.5 L422.1,559.8 L421.9,562.2 L421.8,564.4 L421.7,566.7 L421.6,568.9 L421.5,571.1 L421.4,573.3 L421.3,575.4 L421.2,577.5 L421.1,579.5 L421.0,581.5 L420.9,583.5 L420.8,585.4 L420.6,587.3 L420.5,589.1 L420.4,590.9 L420.3,592.7 L420.2,594.4 L420.0,596.1 L419.9,597.7 L419.8,599.2 L419.7,600.8 L419.5,602.2 L419.4,603.7 L419.2,605.0 L419.1,606.3 L418.9,607.6 L418.8,608.8 L418.7,610.0 L419.3,610.0 L419.5,608.9 L419.7,607.7 L419.8,606.4 L420.0,605.1 L420.1,603.7 L420.3,602.3 L420.4,600.8 L420.6,599.3 L420.8,597.7 L420.9,596.1 L421.1,594.5 L421.3,592.8 L421.4,591.0 L421.6,589.2 L421.7,587.4 L421.9,585.5 L422.1,583.6 L422.2,581.6 L422.4,579.6 L422.6,577.5 L422.7,575.5 L422.9,573.3 L423.0,571.2 L423.2,569.0 L423.3,566.8 L423.4,564.5 L423.5,562.2 L423.7,559.9 L423.8,557.6 L423.9,555.2 L424.0,552.8 L424.1,550.4 L424.3,547.9 L424.4,545.4 L424.5,542.9 L424.6,540.4 L424.8,537.8 L424.9,535.2 L425.0,532.6 L425.1,530.0 L425.2,528.4 L425.3,526.8 L425.4,525.2 L425.4,523.5 L425.5,521.9 L425.5,520.2 L425.5,518.5 L425.6,516.9 L425.6,515.2 L425.5,513.5 L425.5,511.7 L425.5,510.0 L425.4,508.2 L425.4,506.4 L425.3,504.6 L425.2,502.8 L425.1,500.9 L425.0,499.0 L424.9,497.1 L424.8,495.1 L424.7,493.1 L424.5,491.1 L424.4,489.0 L424.2,486.9 L424.1,484.7 L423.9,482.5 L423.7,480.3 L423.6,478.0 L423.4,475.6 L423.2,473.3 L423.0,470.8 L422.8,468.3 L422.6,465.7 L422.4,463.1 L422.2,460.4 L422.0,457.7 L421.8,454.9 L421.6,452.6 L421.2,450.3 L420.8,448.2 L420.3,446.1 L419.7,444.1 L419.1,442.2 L418.3,440.4 L417.5,438.6 L416.5,437.0 L415.5,435.4 L414.5,433.9 L413.3,432.6 L412.0,431.3 L410.6,430.2 L409.2,429.1 L407.6,428.2 L406.1,427.3 L404.4,426.6 L402.7,425.9 L400.9,425.4 L399.0,424.9 L397.1,424.4 Z"/>
<path fill="#656565" d="M425.1,416.5 L426.9,416.2 L428.7,416.1 L430.5,416.0 L432.3,415.9 L434.2,415.8 L436.0,415.8 L437.9,415.7 L439.7,415.6 L441.6,415.4 L443.4,415.2 L445.3,415.1 L447.3,414.9 L449.2,414.8 L451.2,414.7 L453.1,414.6 L455.2,414.5 L457.2,414.5 L459.3,414.4 L461.4,414.4 L463.6,414.4 L465.8,414.4 L468.0,414.2 L470.3,413.9 L472.6,413.6 L475.0,413.5 L475.0,412.5 L472.6,412.3 L470.3,412.0 L468.0,411.6 L465.8,411.4 L463.6,411.4 L461.4,411.4 L459.2,411.4 L457.1,411.5 L455.1,411.5 L453.0,411.6 L451.0,411.7 L449.0,411.8 L447.1,411.9 L445.1,412.1 L443.2,412.2 L441.3,412.4 L439.4,412.6 L437.6,412.8 L435.7,413.1 L433.9,413.5 L432.1,413.9 L430.3,414.4 L428.5,414.8 L426.7,415.2 L424.9,415.5 Z"/>
<path fill="#656565" d="M455.8,408.1 L457.1,408.5 L458.5,409.0 L460.1,409.5 L461.7,410.0 L463.5,410.4 L465.3,410.9 L467.2,411.3 L469.2,411.8 L471.3,412.2 L473.4,412.6 L475.6,413.0 L477.8,413.4 L480.0,413.7 L482.3,414.0 L484.5,414.3 L486.8,414.6 L489.0,414.9 L491.3,415.2 L493.5,415.5 L495.6,415.8 L497.8,416.0 L499.8,416.3 L502.1,416.7 L504.3,417.1 L506.4,417.5 L508.5,418.0 L510.6,418.6 L512.6,419.2 L514.6,419.8 L516.5,420.5 L518.3,421.2 L520.1,422.0 L521.8,422.8 L523.5,423.6 L525.1,424.5 L526.6,425.5 L528.1,426.5 L529.5,427.5 L530.8,428.6 L532.1,429.8 L533.3,430.9 L534.4,432.2 L535.5,433.4 L536.5,434.8 L537.4,436.1 L538.3,437.6 L539.0,439.0 L539.7,440.4 L540.0,442.1 L540.3,443.9 L540.7,445.8 L541.0,447.6 L541.4,449.5 L541.7,451.4 L542.0,453.4 L542.3,455.3 L542.6,457.3 L543.0,459.3 L543.3,461.2 L543.5,463.3 L543.8,465.3 L544.1,467.3 L544.4,469.3 L544.7,471.4 L545.0,473.4 L545.2,475.5 L545.5,477.6 L545.7,479.7 L546.0,481.7 L546.2,483.8 L546.5,485.9 L546.7,488.0 L546.9,490.1 L547.1,492.2 L547.3,494.3 L547.5,496.4 L547.7,498.5 L547.9,500.6 L548.1,502.6 L548.2,504.7 L548.4,506.8 L548.5,508.8 L548.7,510.9 L548.8,512.9 L548.9,515.0 L549.0,517.0 L549.1,519.0 L549.2,521.0 L549.2,523.0 L549.3,524.9 L549.3,526.9 L549.3,528.8 L549.3,530.7 L549.3,532.6 L549.3,534.5 L549.3,536.3 L549.3,538.2 L549.2,540.0 L549.1,542.8 L549.0,545.7 L548.9,548.4 L548.8,551.1 L548.7,553.7 L548.6,556.3 L548.5,558.8 L548.4,561.2 L548.3,563.6 L548.2,565.9 L548.1,568.2 L547.9,570.4 L547.8,572.6 L547.7,574.7 L547.6,576.7 L547.4,578.7 L547.3,580.6 L547.2,582.5 L547.1,584.3 L546.9,586.1 L546.8,587.8 L546.7,589.4 L546.6,591.0 L546.4,592.6 L546.3,594.1 L546.2,595.5 L546.1,596.9 L546.0,598.3 L545.9,599.5 L545.8,600.8 L545.7,602.0 L546.3,602.0 L546.4,600.8 L546.6,599.6 L546.7,598.3 L546.8,597.0 L546.9,595.6 L547.0,594.2 L547.2,592.7 L547.3,591.1 L547.5,589.5 L547.6,587.9 L547.8,586.1 L547.9,584.4 L548.1,582.6 L548.2,580.7 L548.4,578.8 L548.6,576.8 L548.7,574.7 L548.9,572.7 L549.1,570.5 L549.2,568.3 L549.4,566.0 L549.6,563.7 L549.7,561.3 L549.9,558.9 L550.0,556.3 L550.2,553.8 L550.3,551.2 L550.4,548.5 L550.6,545.7 L550.7,542.9 L550.8,540.0 L550.9,538.2 L550.9,536.4 L550.9,534.5 L551.0,532.6 L551.0,530.7 L551.0,528.8 L551.0,526.9 L551.0,524.9 L550.9,522.9 L550.9,520.9 L550.9,518.9 L550.8,516.9 L550.7,514.9 L550.7,512.8 L550.6,510.8 L550.5,508.7 L550.4,506.7 L550.3,504.6 L550.2,502.5 L550.1,500.4 L549.9,498.3 L549.8,496.2 L549.7,494.1 L549.5,492.0 L549.3,489.9 L549.1,487.8 L549.0,485.7 L548.8,483.6 L548.6,481.5 L548.3,479.4 L548.1,477.3 L547.9,475.2 L547.7,473.1 L547.4,471.0 L547.1,469.0 L546.9,466.9 L546.6,464.9 L546.3,462.9 L546.0,460.8 L545.7,458.8 L545.4,456.8 L545.1,454.9 L544.8,452.9 L544.4,451.0 L544.1,449.0 L543.8,447.1 L543.4,445.3 L543.1,443.4 L542.7,441.5 L542.3,439.6 L541.5,437.8 L540.7,436.2 L539.7,434.7 L538.7,433.2 L537.6,431.7 L536.5,430.3 L535.3,429.0 L534.0,427.8 L532.6,426.5 L531.1,425.4 L529.6,424.3 L528.1,423.2 L526.4,422.2 L524.7,421.3 L523.0,420.4 L521.2,419.5 L519.3,418.7 L517.4,418.0 L515.4,417.3 L513.4,416.6 L511.3,416.0 L509.2,415.5 L507.0,415.0 L504.8,414.5 L502.5,414.1 L500.2,413.7 L498.1,413.4 L496.0,413.2 L493.8,412.9 L491.6,412.6 L489.3,412.3 L487.1,412.0 L484.8,411.8 L482.6,411.5 L480.4,411.2 L478.1,410.9 L475.9,410.6 L473.8,410.3 L471.6,410.1 L469.6,409.8 L467.6,409.5 L465.7,409.2 L463.8,408.9 L462.1,408.6 L460.4,408.2 L458.9,407.8 L457.5,407.4 L456.2,406.9 Z"/>
<path fill="#656565" d="M521.1,419.0 L522.6,418.5 L524.1,418.1 L525.7,417.8 L527.3,417.5 L529.0,417.2 L530.7,416.9 L532.4,416.7 L534.2,416.4 L536.0,416.2 L537.9,415.8 L539.7,415.5 L541.6,415.2 L543.6,414.9 L545.6,414.5 L547.6,414.3 L549.7,414.0 L551.8,413.7 L554.0,413.5 L556.2,413.2 L558.4,413.0 L560.7,412.8 L563.0,412.6 L565.3,412.4 L567.7,412.2 L570.1,411.9 L572.5,411.5 L575.0,411.1 L577.5,410.7 L580.1,410.5 L579.9,408.5 L577.4,408.6 L574.8,408.5 L572.3,408.5 L569.8,408.5 L567.4,408.7 L565.0,408.9 L562.6,409.1 L560.3,409.4 L558.0,409.7 L555.8,409.9 L553.6,410.2 L551.4,410.5 L549.3,410.9 L547.2,411.2 L545.1,411.5 L543.1,411.9 L541.1,412.2 L539.2,412.6 L537.3,412.9 L535.5,413.3 L533.7,413.8 L531.9,414.3 L530.2,414.9 L528.5,415.4 L526.9,416.0 L525.4,416.5 L523.8,417.0 L522.3,417.5 L520.9,418.0 Z"/>
<path fill="#656565" d="M619.9,412.6 L622.0,413.0 L624.1,413.4 L626.2,413.9 L628.2,414.5 L630.2,415.2 L632.2,415.9 L634.1,416.6 L636.0,417.4 L637.9,418.2 L639.7,419.0 L641.5,419.8 L643.3,420.7 L645.0,421.6 L646.7,422.6 L648.3,423.6 L649.9,424.7 L651.4,425.8 L652.9,426.9 L654.3,428.1 L655.6,429.4 L656.9,430.6 L658.1,431.9 L659.2,433.3 L660.3,434.7 L661.3,436.1 L662.2,437.5 L663.0,439.0 L663.7,440.4 L664.0,442.1 L664.3,444.1 L664.6,446.1 L664.9,448.1 L665.1,450.1 L665.4,452.1 L665.7,454.2 L665.9,456.2 L666.2,458.3 L666.4,460.4 L666.6,462.5 L666.9,464.7 L667.1,466.8 L667.3,468.9 L667.5,471.1 L667.7,473.3 L667.9,475.4 L668.0,477.6 L668.2,479.7 L668.4,481.9 L668.5,484.1 L668.7,486.2 L668.8,488.4 L669.0,490.5 L669.1,492.7 L669.2,494.8 L669.4,496.9 L669.5,499.0 L669.6,501.1 L669.7,503.2 L669.8,505.3 L669.9,507.3 L670.0,509.4 L670.0,511.4 L670.1,513.4 L670.2,515.3 L670.2,517.3 L670.3,519.2 L670.3,521.1 L670.3,522.9 L670.3,524.7 L670.3,526.5 L670.3,528.3 L670.3,530.0 L670.3,531.7 L670.2,533.4 L670.2,535.0 L670.1,537.9 L670.0,540.8 L669.9,543.7 L669.8,546.4 L669.7,549.1 L669.6,551.8 L669.5,554.3 L669.5,556.9 L669.4,559.3 L669.3,561.7 L669.2,564.0 L669.2,566.2 L669.1,568.4 L669.0,570.5 L668.9,572.6 L668.8,574.6 L668.7,576.5 L668.6,578.4 L668.5,580.2 L668.4,581.9 L668.3,583.6 L668.2,585.2 L668.1,586.8 L668.0,588.3 L667.8,589.7 L667.7,591.1 L667.6,592.4 L667.4,593.6 L667.3,594.8 L667.2,596.0 L667.8,596.0 L668.0,594.9 L668.1,593.7 L668.3,592.5 L668.4,591.2 L668.6,589.8 L668.7,588.3 L668.9,586.8 L669.0,585.3 L669.1,583.7 L669.3,582.0 L669.4,580.3 L669.6,578.4 L669.7,576.6 L669.8,574.6 L670.0,572.7 L670.1,570.6 L670.2,568.5 L670.4,566.3 L670.5,564.0 L670.7,561.7 L670.8,559.4 L670.9,556.9 L671.0,554.4 L671.2,551.8 L671.3,549.2 L671.4,546.5 L671.5,543.7 L671.6,540.9 L671.7,538.0 L671.8,535.0 L671.9,533.4 L672.0,531.8 L672.0,530.1 L672.1,528.3 L672.1,526.6 L672.2,524.8 L672.2,522.9 L672.2,521.1 L672.2,519.2 L672.3,517.2 L672.3,515.3 L672.3,513.3 L672.2,511.3 L672.2,509.3 L672.2,507.3 L672.2,505.2 L672.1,503.1 L672.1,501.0 L672.0,498.9 L671.9,496.8 L671.9,494.7 L671.8,492.5 L671.7,490.4 L671.6,488.2 L671.4,486.0 L671.3,483.9 L671.1,481.7 L671.0,479.5 L670.8,477.4 L670.6,475.2 L670.5,473.0 L670.3,470.8 L670.1,468.7 L669.8,466.5 L669.6,464.4 L669.4,462.2 L669.2,460.1 L668.9,458.0 L668.7,455.9 L668.4,453.8 L668.1,451.7 L667.8,449.7 L667.6,447.7 L667.3,445.7 L667.0,443.7 L666.6,441.7 L666.3,439.6 L665.4,437.8 L664.5,436.2 L663.5,434.6 L662.4,433.1 L661.3,431.6 L660.1,430.2 L658.8,428.8 L657.4,427.5 L656.0,426.2 L654.5,424.9 L653.0,423.7 L651.4,422.6 L649.7,421.4 L648.0,420.4 L646.3,419.4 L644.5,418.4 L642.7,417.5 L640.8,416.6 L638.9,415.8 L636.9,415.1 L634.9,414.4 L632.8,413.9 L630.7,413.3 L628.6,412.9 L626.5,412.5 L624.4,412.1 L622.2,411.7 L620.1,411.4 Z"/>
<path fill="#656565" d="M667.9,403.5 L670.1,404.1 L672.4,404.7 L674.7,405.3 L677.0,405.9 L679.2,406.5 L681.4,407.1 L683.7,407.6 L685.9,408.1 L688.1,408.6 L690.3,409.1 L692.5,409.6 L694.7,410.0 L696.8,410.5 L699.0,410.9 L701.1,411.3 L703.2,411.7 L705.3,412.0 L707.4,412.4 L709.5,412.7 L711.6,413.0 L713.6,413.3 L715.7,413.6 L717.7,413.9 L719.7,414.1 L721.7,414.4 L723.6,414.6 L725.5,414.8 L727.5,415.1 L729.4,415.3 L731.2,415.5 L733.1,415.6 L734.9,415.8 L736.7,416.0 L738.5,416.1 L740.3,416.3 L742.0,416.4 L743.7,416.5 L745.4,416.6 L747.1,416.7 L748.8,416.8 L750.4,416.9 L752.0,417.0 L752.0,415.0 L750.5,414.9 L748.9,414.8 L747.2,414.8 L745.6,414.7 L743.9,414.6 L742.2,414.5 L740.4,414.4 L738.7,414.2 L736.9,414.1 L735.1,414.0 L733.3,413.8 L731.4,413.7 L729.5,413.5 L727.6,413.3 L725.7,413.1 L723.8,412.9 L721.9,412.7 L719.9,412.5 L717.9,412.2 L715.9,412.0 L713.9,411.7 L711.8,411.4 L709.8,411.1 L707.7,410.8 L705.6,410.5 L703.5,410.1 L701.4,409.8 L699.2,409.4 L697.1,409.0 L694.9,408.6 L692.8,408.2 L690.6,407.8 L688.4,407.4 L686.2,406.9 L683.9,406.4 L681.7,405.9 L679.5,405.4 L677.2,404.9 L675.0,404.3 L672.7,403.8 L670.4,403.1 L668.1,402.5 Z"/>
<path fill="#656565" d="M751.8,417.0 L754.0,417.5 L756.2,418.2 L758.2,418.9 L760.2,419.6 L762.1,420.4 L763.9,421.2 L765.6,422.1 L767.3,423.0 L768.8,423.9 L770.2,424.9 L771.5,425.9 L772.6,427.0 L773.7,428.2 L774.6,429.4 L775.4,430.7 L776.1,432.0 L776.7,433.4 L777.1,435.2 L777.6,437.1 L778.0,438.9 L778.4,440.9 L778.9,442.8 L779.3,444.7 L779.7,446.7 L780.0,448.7 L780.4,450.7 L780.8,452.7 L781.1,454.7 L781.5,456.7 L781.8,458.8 L782.1,460.8 L782.4,462.9 L782.7,465.0 L783.0,467.0 L783.2,469.1 L783.5,471.2 L783.7,473.2 L784.0,475.3 L784.2,477.4 L784.4,479.5 L784.6,481.5 L784.8,483.6 L784.9,485.6 L785.1,487.7 L785.2,489.7 L785.4,491.7 L785.5,493.8 L785.7,495.8 L785.8,497.7 L785.9,499.7 L786.0,501.7 L786.1,503.6 L786.2,505.5 L786.3,507.4 L786.3,509.3 L786.4,511.1 L786.4,513.0 L786.5,514.8 L786.5,516.5 L786.5,518.3 L786.5,520.0 L786.5,522.6 L786.5,525.2 L786.4,527.8 L786.4,530.3 L786.3,532.9 L786.2,535.3 L786.1,537.8 L786.0,540.2 L785.8,542.6 L785.7,544.9 L785.5,547.3 L785.4,549.5 L785.2,551.8 L785.1,554.0 L784.9,556.1 L784.7,558.2 L784.6,560.3 L784.4,562.3 L784.2,564.3 L784.0,566.3 L783.8,568.2 L783.6,570.0 L783.4,571.8 L783.1,573.5 L782.9,575.2 L782.7,576.9 L782.4,578.4 L782.2,580.0 L781.9,581.4 L781.7,582.9 L781.4,584.2 L781.2,585.5 L780.9,586.7 L780.7,587.9 L781.3,588.1 L781.6,586.9 L781.9,585.7 L782.1,584.4 L782.4,583.0 L782.7,581.6 L783.0,580.1 L783.2,578.6 L783.5,577.0 L783.8,575.3 L784.0,573.7 L784.3,571.9 L784.6,570.1 L784.8,568.3 L785.1,566.4 L785.3,564.5 L785.6,562.5 L785.8,560.4 L786.1,558.4 L786.3,556.2 L786.5,554.1 L786.7,551.9 L786.9,549.6 L787.1,547.4 L787.3,545.0 L787.4,542.7 L787.6,540.3 L787.7,537.9 L787.8,535.4 L788.0,532.9 L788.1,530.4 L788.2,527.8 L788.3,525.3 L788.4,522.7 L788.5,520.0 L788.5,518.3 L788.6,516.5 L788.6,514.8 L788.6,512.9 L788.7,511.1 L788.7,509.2 L788.7,507.4 L788.6,505.4 L788.6,503.5 L788.6,501.6 L788.5,499.6 L788.4,497.6 L788.4,495.6 L788.3,493.6 L788.1,491.6 L788.0,489.5 L787.9,487.5 L787.7,485.4 L787.5,483.3 L787.4,481.3 L787.2,479.2 L787.0,477.1 L786.7,475.0 L786.5,472.9 L786.3,470.8 L786.0,468.7 L785.7,466.7 L785.5,464.6 L785.2,462.5 L784.9,460.4 L784.6,458.3 L784.2,456.3 L783.9,454.2 L783.5,452.2 L783.2,450.2 L782.8,448.2 L782.4,446.2 L782.0,444.2 L781.6,442.2 L781.2,440.2 L780.7,438.3 L780.3,436.4 L779.8,434.5 L779.3,432.6 L778.7,430.9 L777.9,429.3 L776.9,427.8 L775.8,426.4 L774.6,425.1 L773.3,423.8 L771.9,422.7 L770.3,421.6 L768.6,420.6 L766.9,419.7 L765.0,418.8 L763.1,418.1 L761.0,417.4 L758.9,416.7 L756.7,416.1 L754.5,415.6 L752.2,415.0 Z"/>
<path fill="#656565" d="M847.4,410.6 L849.6,410.9 L851.7,411.3 L853.8,411.8 L855.8,412.3 L857.8,413.0 L859.7,413.6 L861.6,414.4 L863.5,415.1 L865.3,415.9 L867.1,416.7 L868.8,417.5 L870.4,418.4 L872.0,419.3 L873.6,420.3 L875.0,421.3 L876.4,422.4 L877.7,423.6 L879.0,424.7 L880.2,425.9 L881.3,427.2 L882.3,428.5 L883.2,429.8 L884.1,431.2 L884.8,432.5 L885.2,434.0 L885.7,435.7 L886.1,437.4 L886.6,439.2 L887.0,441.0 L887.4,442.8 L887.8,444.7 L888.2,446.6 L888.6,448.5 L889.0,450.4 L889.3,452.4 L889.7,454.4 L890.0,456.4 L890.3,458.4 L890.6,460.4 L890.9,462.5 L891.2,464.6 L891.5,466.6 L891.7,468.7 L892.0,470.8 L892.2,472.9 L892.5,475.0 L892.7,477.1 L892.9,479.2 L893.1,481.3 L893.3,483.4 L893.5,485.5 L893.6,487.6 L893.8,489.7 L894.0,491.7 L894.1,493.8 L894.2,495.8 L894.4,497.8 L894.5,499.8 L894.6,501.8 L894.7,503.8 L894.8,505.7 L894.9,507.6 L894.9,509.5 L895.0,511.4 L895.0,513.2 L895.0,515.0 L895.1,517.6 L895.1,520.2 L895.1,522.8 L895.0,525.4 L895.0,527.9 L894.9,530.4 L894.8,532.8 L894.7,535.2 L894.6,537.6 L894.5,540.0 L894.4,542.3 L894.3,544.6 L894.1,546.8 L894.0,549.0 L893.8,551.2 L893.7,553.3 L893.5,555.4 L893.3,557.5 L893.1,559.5 L893.0,561.5 L892.8,563.4 L892.6,565.3 L892.3,567.1 L892.1,568.9 L891.9,570.6 L891.7,572.3 L891.4,573.9 L891.2,575.5 L890.9,577.1 L890.7,578.5 L890.4,580.0 L890.2,581.3 L889.9,582.7 L889.7,583.9 L890.3,584.1 L890.6,582.8 L890.9,581.5 L891.1,580.1 L891.4,578.7 L891.7,577.2 L892.0,575.7 L892.2,574.1 L892.5,572.4 L892.8,570.7 L893.0,569.0 L893.3,567.2 L893.5,565.4 L893.8,563.5 L894.0,561.6 L894.3,559.6 L894.5,557.6 L894.7,555.6 L895.0,553.5 L895.2,551.3 L895.4,549.2 L895.6,546.9 L895.8,544.7 L895.9,542.4 L896.1,540.1 L896.2,537.7 L896.3,535.3 L896.4,532.9 L896.5,530.4 L896.6,527.9 L896.7,525.4 L896.8,522.8 L896.9,520.3 L896.9,517.6 L897.0,515.0 L897.0,513.2 L897.0,511.4 L897.0,509.5 L897.0,507.6 L897.0,505.7 L896.9,503.7 L896.9,501.7 L896.8,499.7 L896.8,497.7 L896.7,495.7 L896.6,493.6 L896.5,491.6 L896.4,489.5 L896.3,487.4 L896.2,485.3 L896.0,483.2 L895.8,481.1 L895.7,478.9 L895.5,476.8 L895.2,474.7 L895.0,472.6 L894.8,470.5 L894.5,468.4 L894.3,466.3 L894.0,464.2 L893.7,462.1 L893.4,460.0 L893.1,458.0 L892.7,455.9 L892.4,453.9 L892.0,451.9 L891.7,449.9 L891.3,448.0 L890.9,446.0 L890.5,444.1 L890.1,442.2 L889.6,440.4 L889.2,438.6 L888.7,436.8 L888.3,435.0 L887.8,433.3 L887.2,431.5 L886.4,429.9 L885.4,428.4 L884.4,426.9 L883.3,425.5 L882.1,424.1 L880.8,422.8 L879.5,421.6 L878.1,420.4 L876.6,419.2 L875.0,418.1 L873.4,417.1 L871.7,416.1 L870.0,415.2 L868.2,414.3 L866.3,413.5 L864.4,412.8 L862.4,412.1 L860.4,411.5 L858.3,411.1 L856.2,410.6 L854.1,410.3 L851.9,409.9 L849.8,409.7 L847.6,409.4 Z"/>
<path fill="#656565" d="M852.2,409.5 L853.9,408.9 L855.6,408.4 L857.4,408.0 L859.2,407.6 L861.0,407.2 L862.9,406.8 L864.8,406.5 L866.8,406.2 L868.7,405.9 L870.7,405.7 L872.7,405.5 L874.7,405.3 L876.7,405.1 L878.7,404.9 L880.8,404.7 L882.8,404.6 L884.9,404.5 L886.9,404.4 L889.0,404.3 L891.1,404.2 L893.1,404.2 L895.2,404.2 L897.2,404.2 L899.2,404.2 L901.3,404.3 L903.3,404.3 L905.3,404.4 L907.2,404.5 L909.2,404.7 L911.1,404.8 L913.0,405.0 L914.9,405.2 L917.5,405.4 L920.1,405.7 L922.6,406.0 L925.1,406.3 L927.6,406.6 L930.1,406.9 L932.5,407.3 L934.9,407.7 L937.2,408.1 L939.6,408.6 L941.9,409.0 L944.1,409.5 L946.3,410.0 L948.5,410.5 L950.6,411.0 L952.7,411.5 L954.8,412.1 L956.8,412.7 L958.8,413.3 L960.7,413.9 L962.6,414.5 L964.5,415.2 L966.3,415.8 L968.0,416.5 L969.7,417.2 L971.4,417.9 L973.0,418.6 L974.5,419.3 L976.0,420.1 L977.5,420.8 L978.9,421.6 L980.2,422.4 L981.5,423.2 L982.8,424.0 L984.0,424.8 L985.1,425.6 L986.2,426.4 L987.2,427.3 L988.1,428.1 L988.9,428.8 L989.3,429.8 L989.8,431.1 L990.3,432.5 L990.8,433.9 L991.3,435.4 L991.8,436.9 L992.3,438.5 L992.7,440.2 L993.1,441.9 L993.5,443.6 L993.9,445.4 L994.3,447.2 L994.6,449.1 L995.0,451.0 L995.3,453.0 L995.6,454.9 L995.9,457.0 L996.2,459.0 L996.4,461.1 L996.7,463.2 L996.9,465.3 L997.2,467.5 L997.4,469.6 L997.6,471.8 L997.8,474.0 L997.9,476.3 L998.1,478.5 L998.3,480.7 L998.4,483.0 L998.5,485.3 L998.6,487.5 L998.7,489.8 L998.8,492.1 L998.9,494.3 L999.0,496.6 L999.0,498.9 L999.1,501.1 L999.1,503.4 L999.2,505.6 L999.2,507.8 L999.2,510.0 L999.2,512.6 L999.2,515.2 L999.1,517.8 L999.1,520.4 L999.0,522.9 L999.0,525.4 L998.9,527.8 L998.8,530.2 L998.7,532.6 L998.6,535.0 L998.5,537.3 L998.4,539.6 L998.3,541.8 L998.1,544.1 L998.0,546.2 L997.8,548.4 L997.7,550.5 L997.5,552.5 L997.3,554.5 L997.1,556.5 L996.9,558.4 L996.7,560.3 L996.5,562.1 L996.3,563.9 L996.1,565.6 L995.9,567.3 L995.7,569.0 L995.5,570.5 L995.3,572.1 L995.0,573.6 L994.8,575.0 L994.6,576.4 L994.4,577.7 L994.2,578.9 L994.8,579.1 L995.1,577.8 L995.3,576.5 L995.5,575.1 L995.8,573.7 L996.0,572.2 L996.2,570.6 L996.5,569.1 L996.7,567.4 L996.9,565.7 L997.2,564.0 L997.4,562.2 L997.6,560.4 L997.8,558.5 L998.1,556.6 L998.3,554.6 L998.5,552.6 L998.7,550.5 L998.9,548.5 L999.1,546.3 L999.3,544.1 L999.5,541.9 L999.7,539.7 L999.8,537.4 L1000.0,535.1 L1000.1,532.7 L1000.3,530.3 L1000.4,527.9 L1000.5,525.4 L1000.6,522.9 L1000.7,520.4 L1000.7,517.8 L1000.8,515.3 L1000.8,512.6 L1000.8,510.0 L1000.8,507.8 L1000.8,505.6 L1000.8,503.3 L1000.8,501.1 L1000.8,498.8 L1000.7,496.6 L1000.7,494.3 L1000.6,492.0 L1000.6,489.7 L1000.5,487.5 L1000.5,485.2 L1000.4,482.9 L1000.3,480.6 L1000.2,478.4 L1000.1,476.1 L999.9,473.9 L999.8,471.7 L999.6,469.4 L999.5,467.3 L999.3,465.1 L999.1,462.9 L998.9,460.8 L998.6,458.7 L998.4,456.6 L998.1,454.6 L997.9,452.6 L997.6,450.6 L997.2,448.6 L996.9,446.7 L996.6,444.9 L996.2,443.0 L995.8,441.2 L995.4,439.5 L994.9,437.8 L994.5,436.2 L994.0,434.6 L993.5,433.0 L993.0,431.5 L992.4,430.1 L991.9,428.7 L991.1,427.2 L990.0,426.1 L989.0,425.2 L987.9,424.3 L986.8,423.4 L985.6,422.5 L984.3,421.7 L983.0,420.8 L981.7,420.0 L980.2,419.2 L978.8,418.4 L977.3,417.6 L975.7,416.9 L974.1,416.1 L972.4,415.4 L970.7,414.7 L969.0,414.0 L967.2,413.3 L965.3,412.6 L963.5,412.0 L961.5,411.4 L959.6,410.7 L957.5,410.2 L955.5,409.6 L953.4,409.0 L951.3,408.5 L949.1,408.0 L946.9,407.5 L944.6,407.0 L942.3,406.5 L940.0,406.1 L937.7,405.7 L935.3,405.3 L932.9,404.9 L930.4,404.5 L927.9,404.2 L925.4,403.9 L922.9,403.6 L920.3,403.3 L917.7,403.1 L915.1,402.8 L913.2,402.7 L911.3,402.5 L909.3,402.4 L907.4,402.3 L905.4,402.2 L903.3,402.1 L901.3,402.0 L899.3,402.0 L897.2,402.0 L895.1,402.0 L893.1,402.0 L891.0,402.0 L888.9,402.1 L886.8,402.2 L884.8,402.3 L882.7,402.4 L880.6,402.6 L878.5,402.7 L876.5,403.0 L874.5,403.2 L872.4,403.5 L870.4,403.9 L868.4,404.2 L866.5,404.6 L864.6,405.0 L862.6,405.5 L860.8,405.9 L858.9,406.4 L857.1,406.9 L855.3,407.4 L853.6,408.0 L851.8,408.5 Z"/>
<path fill="#656565" d="M951.2,406.5 L953.1,405.8 L955.0,405.2 L956.9,404.7 L958.9,404.3 L960.8,403.9 L962.8,403.5 L964.8,403.2 L966.8,402.9 L968.8,402.7 L970.8,402.5 L972.7,402.3 L974.8,402.2 L976.8,402.0 L978.8,401.9 L980.8,401.8 L982.8,401.7 L984.8,401.7 L986.8,401.7 L988.9,401.7 L990.9,401.7 L992.9,401.8 L994.9,401.8 L997.8,402.0 L1000.5,402.2 L1003.2,402.3 L1005.9,402.5 L1008.5,402.7 L1011.1,402.9 L1013.7,403.1 L1016.2,403.3 L1018.6,403.5 L1021.0,403.7 L1023.4,403.9 L1025.7,404.1 L1027.9,404.4 L1030.2,404.6 L1032.3,404.8 L1034.4,405.1 L1036.5,405.3 L1038.5,405.5 L1040.5,405.8 L1042.4,406.1 L1044.3,406.3 L1046.1,406.6 L1047.9,406.9 L1049.6,407.1 L1051.3,407.4 L1053.0,407.7 L1054.5,408.0 L1056.1,408.3 L1057.5,408.7 L1059.0,409.0 L1060.3,409.3 L1061.6,409.7 L1062.9,410.0 L1064.1,410.4 L1065.3,410.7 L1066.4,411.1 L1067.4,411.5 L1069.3,412.3 L1071.1,413.2 L1072.9,414.1 L1074.6,415.1 L1076.2,416.1 L1077.8,417.2 L1079.3,418.4 L1080.7,419.6 L1082.0,420.9 L1083.2,422.2 L1084.4,423.6 L1085.5,425.1 L1086.6,426.6 L1087.6,428.2 L1088.5,429.9 L1089.3,431.7 L1090.1,433.5 L1090.7,435.4 L1091.3,437.5 L1091.9,439.6 L1092.4,441.7 L1092.9,443.9 L1093.4,446.0 L1093.9,448.1 L1094.4,450.2 L1094.8,452.3 L1095.2,454.4 L1095.6,456.5 L1096.0,458.6 L1096.4,460.7 L1096.7,462.8 L1097.0,464.8 L1097.3,466.9 L1097.6,469.0 L1097.9,471.0 L1098.1,473.0 L1098.4,475.0 L1098.6,477.0 L1098.8,479.0 L1099.0,481.0 L1099.2,482.9 L1099.3,484.9 L1099.5,486.8 L1099.6,488.7 L1099.7,490.6 L1099.8,492.5 L1099.9,494.3 L1100.0,496.2 L1100.1,498.0 L1100.1,499.8 L1100.1,501.5 L1100.2,503.3 L1100.2,505.0 L1100.2,507.6 L1100.2,510.2 L1100.1,512.8 L1100.0,515.3 L1100.0,517.9 L1099.9,520.3 L1099.8,522.8 L1099.6,525.2 L1099.5,527.6 L1099.4,529.9 L1099.2,532.2 L1099.1,534.5 L1098.9,536.7 L1098.7,538.9 L1098.5,541.1 L1098.3,543.2 L1098.1,545.2 L1097.9,547.3 L1097.6,549.2 L1097.4,551.2 L1097.1,553.0 L1096.9,554.9 L1096.6,556.6 L1096.4,558.3 L1096.1,560.0 L1095.8,561.6 L1095.6,563.2 L1095.3,564.7 L1095.0,566.1 L1094.7,567.5 L1094.5,568.8 L1094.2,570.1 L1093.9,571.3 L1093.7,572.4 L1094.3,572.6 L1094.6,571.4 L1094.9,570.2 L1095.2,569.0 L1095.4,567.7 L1095.7,566.3 L1096.0,564.8 L1096.3,563.3 L1096.6,561.8 L1096.9,560.2 L1097.2,558.5 L1097.5,556.8 L1097.8,555.0 L1098.1,553.2 L1098.3,551.3 L1098.6,549.4 L1098.9,547.4 L1099.2,545.4 L1099.4,543.3 L1099.7,541.2 L1099.9,539.1 L1100.2,536.9 L1100.4,534.6 L1100.6,532.3 L1100.8,530.0 L1101.0,527.7 L1101.2,525.3 L1101.3,522.9 L1101.4,520.4 L1101.6,517.9 L1101.6,515.4 L1101.7,512.8 L1101.8,510.3 L1101.8,507.6 L1101.8,505.0 L1101.8,503.3 L1101.8,501.5 L1101.8,499.7 L1101.8,497.9 L1101.7,496.1 L1101.7,494.3 L1101.6,492.4 L1101.6,490.5 L1101.5,488.6 L1101.4,486.7 L1101.3,484.7 L1101.2,482.8 L1101.0,480.8 L1100.9,478.8 L1100.7,476.8 L1100.5,474.8 L1100.3,472.8 L1100.1,470.7 L1099.9,468.7 L1099.6,466.6 L1099.4,464.5 L1099.1,462.4 L1098.8,460.3 L1098.4,458.2 L1098.1,456.1 L1097.7,454.0 L1097.3,451.8 L1096.9,449.7 L1096.4,447.6 L1096.0,445.4 L1095.5,443.3 L1095.0,441.1 L1094.4,439.0 L1093.8,436.8 L1093.3,434.6 L1092.5,432.6 L1091.7,430.6 L1090.9,428.7 L1089.9,426.9 L1088.9,425.2 L1087.8,423.5 L1086.6,421.9 L1085.4,420.4 L1084.0,418.9 L1082.6,417.5 L1081.1,416.1 L1079.6,414.9 L1077.9,413.7 L1076.2,412.5 L1074.4,411.4 L1072.6,410.4 L1070.6,409.4 L1068.6,408.5 L1067.5,408.1 L1066.3,407.7 L1065.1,407.3 L1063.8,406.9 L1062.5,406.5 L1061.2,406.1 L1059.7,405.8 L1058.3,405.4 L1056.8,405.1 L1055.2,404.7 L1053.6,404.4 L1051.9,404.1 L1050.2,403.8 L1048.5,403.5 L1046.7,403.2 L1044.8,402.9 L1042.9,402.6 L1041.0,402.3 L1039.0,402.1 L1036.9,401.8 L1034.8,401.6 L1032.7,401.4 L1030.5,401.2 L1028.3,401.0 L1026.0,400.8 L1023.7,400.6 L1021.3,400.4 L1018.9,400.3 L1016.4,400.1 L1013.9,400.0 L1011.3,399.8 L1008.7,399.7 L1006.1,399.6 L1003.4,399.5 L1000.7,399.4 L997.9,399.3 L995.1,399.2 L993.0,399.1 L990.9,399.1 L988.9,399.1 L986.8,399.1 L984.8,399.2 L982.7,399.2 L980.7,399.3 L978.6,399.4 L976.6,399.6 L974.5,399.8 L972.5,400.1 L970.5,400.4 L968.5,400.7 L966.5,401.1 L964.5,401.5 L962.5,402.0 L960.5,402.5 L958.6,403.0 L956.6,403.6 L954.7,404.2 L952.8,404.9 L950.8,405.5 Z"/>
</g>
<!-- SOFA-END -->

<!-- thin reference lines -->
<g id="thin">
<path class="k" d="M174.5,113V257"/>
<path class="k" d="M80.5,207.5H330"/>
<path class="k" d="M152,250.5H184.5"/>
<path class="k" d="M80,621.5H220"/>
<path class="g" d="M1007.3,113V267"/>
<path class="g" d="M1187.5,135V416"/>
<path class="k" d="M1174,572.5H1185.5M1174,616.5H1185.5"/>
</g>

<!-- red dimension lines -->
<g id="red">
<path class="r" d="M173.5,112.8H1007L1187.5,134.6"/>
<path class="r" d="M78,205V623.5"/>
<path class="r" d="M149.5,249V619"/>
<path class="r" style="stroke-width:2.6" d="M320.6,240.4H346.5"/>
<path class="r" style="stroke-width:2.6" d="M325,356H349.5"/>
<path class="r" d="M525.6,210.6L544.7,406.2L688.8,430"/>
<path class="r" d="M656,314.5L941,309"/>
<path class="r" d="M203,421.2L293.5,440.7L689,430L1172,416.6"/>
<path class="r" d="M690.5,430V659.5"/>
<path class="r" d="M910,426V584"/>
<path class="r" style="stroke-width:3.2" d="M1187.3,571.8V617.5"/>
</g>

<!-- LAB-START -->
<g id="labels" class="lab" opacity="0.999">
<g transform="translate(524.3,106.5)"><text class="n">200</text><text class="u" transform="translate(60.06,0) scale(1.110,1)">cm</text></g>
<g transform="translate(1051.7,112.0) rotate(6.0) scale(0.970)"><text class="n">90</text><text class="u" transform="translate(40.04,0) scale(1.110,1)">cm</text></g>
<g transform="translate(281.4,236.3)"><text class="n">10</text><text class="u" transform="translate(40.04,0) scale(1.110,1)">cm</text></g>
<g transform="translate(289.0,347.5)"><text class="n">20</text><text class="u" transform="translate(40.04,0) scale(1.110,1)">cm</text></g>
<g transform="translate(537.0,259.0) rotate(85.3)"><text class="n">50</text><text class="u" transform="translate(40.04,0) scale(1.110,1)">cm</text></g>
<g transform="translate(728.0,306.5)"><text class="n">75</text><text class="u" transform="translate(40.04,0) scale(1.110,1)">cm</text></g>
<g transform="translate(579.8,408.9) rotate(9.5) scale(0.965)"><text class="n">55</text><text class="u" transform="translate(40.04,0) scale(1.110,1)">cm</text></g>
<g transform="translate(727.2,422.5)"><text class="n">200</text><text class="u" transform="translate(60.06,0) scale(1.110,1)">cm</text></g>
<g transform="translate(198.5,452.9) rotate(10.0) scale(0.980)"><text class="n">74</text><text class="u" transform="translate(40.04,0) scale(1.110,1)">cm</text></g>
<g transform="translate(69.4,469.8) rotate(-90.0)"><text class="n">90</text><text class="u" transform="translate(40.04,0) scale(1.110,1)">cm</text></g>
<g transform="translate(142.6,468.2) rotate(-90.0)"><text class="n">74</text><text class="u" transform="translate(40.04,0) scale(1.110,1)">cm</text></g>
<g transform="translate(695.0,501.3) rotate(90.0)"><text class="n">47</text><text class="u" transform="translate(40.04,0) scale(1.110,1)">cm</text></g>
<g transform="translate(914.0,462.8) rotate(90.0)"><text class="n">33</text><text class="u" transform="translate(40.04,0) scale(1.110,1)">cm</text></g>
<g transform="translate(1195.0,558.8) rotate(90.0)"><text class="n">9</text><text class="u" transform="translate(20.02,0) scale(1.110,1)">cm</text></g>
</g>
<!-- LAB-END -->

<!-- BED-START -->
<g id="bed">
<path fill="#666666" d="M128.8,713.8H283.5A17.5,17.5 0 0 1 301,731.3V802H182.5V796C150,785 131,750 128.8,713.8Z"/>
<path fill="#666666" d="M103.8,751C112,772 145,794 182.5,796V812L103.8,834Z"/>
<g fill="#fff"><path d="M165.0,733.4L166.1,736.4L169.4,736.6L166.8,738.6L167.7,741.7L165.0,739.9L162.3,741.7L163.2,738.6L160.6,736.6L163.9,736.4ZM221.8,722.4L222.9,725.4L226.1,725.6L223.6,727.6L224.5,730.7L221.8,728.9L219.0,730.7L219.9,727.6L217.4,725.6L220.6,725.4ZM286.2,725.4L287.4,728.4L290.6,728.6L288.1,730.6L289.0,733.7L286.2,731.9L283.5,733.7L284.4,730.6L281.9,728.6L285.1,728.4ZM238.2,744.1L239.4,747.2L242.6,747.3L240.1,749.3L241.0,752.5L238.2,750.7L235.5,752.5L236.4,749.3L233.9,747.3L237.1,747.2ZM195.8,769.1L196.9,772.2L200.1,772.3L197.6,774.3L198.5,777.5L195.8,775.7L193.0,777.5L193.9,774.3L191.4,772.3L194.6,772.2ZM239.0,768.6L240.1,771.7L243.4,771.8L240.8,773.8L241.7,777.0L239.0,775.2L236.3,777.0L237.2,773.8L234.6,771.8L237.9,771.7ZM274.5,776.6L275.6,779.7L278.9,779.8L276.3,781.8L277.2,785.0L274.5,783.2L271.8,785.0L272.7,781.8L270.1,779.8L273.4,779.7ZM121.2,794.1L122.4,797.2L125.6,797.3L123.1,799.3L124.0,802.5L121.2,800.7L118.5,802.5L119.4,799.3L116.9,797.3L120.1,797.2ZM150.0,723.2L150.7,725.2L152.9,725.3L151.2,726.6L151.8,728.7L150.0,727.5L148.2,728.7L148.8,726.6L147.1,725.3L149.3,725.2ZM175.0,717.8L175.7,719.7L177.9,719.8L176.2,721.1L176.8,723.2L175.0,722.0L173.2,723.2L173.8,721.1L172.1,719.8L174.3,719.7ZM182.5,729.5L183.2,731.5L185.4,731.6L183.7,732.9L184.3,734.9L182.5,733.8L180.7,734.9L181.3,732.9L179.6,731.6L181.8,731.5ZM185.0,739.0L185.7,741.0L187.9,741.1L186.2,742.4L186.8,744.4L185.0,743.3L183.2,744.4L183.8,742.4L182.1,741.1L184.3,741.0ZM206.8,735.0L207.5,737.0L209.6,737.1L207.9,738.4L208.5,740.4L206.8,739.3L205.0,740.4L205.6,738.4L203.9,737.1L206.0,737.0ZM220.5,742.0L221.2,744.0L223.4,744.1L221.7,745.4L222.3,747.4L220.5,746.3L218.7,747.4L219.3,745.4L217.6,744.1L219.8,744.0ZM242.5,728.2L243.2,730.2L245.4,730.3L243.7,731.6L244.3,733.7L242.5,732.5L240.7,733.7L241.3,731.6L239.6,730.3L241.8,730.2ZM261.2,729.5L262.0,731.5L264.1,731.6L262.4,732.9L263.0,734.9L261.2,733.8L259.5,734.9L260.1,732.9L258.4,731.6L260.5,731.5ZM266.8,719.5L267.5,721.5L269.6,721.6L267.9,722.9L268.5,724.9L266.8,723.8L265.0,724.9L265.6,722.9L263.9,721.6L266.0,721.5ZM276.2,744.5L277.0,746.5L279.1,746.6L277.4,747.9L278.0,749.9L276.2,748.8L274.5,749.9L275.1,747.9L273.4,746.6L275.5,746.5ZM255.8,750.8L256.5,752.7L258.6,752.8L256.9,754.1L257.5,756.2L255.8,755.0L254.0,756.2L254.6,754.1L252.9,752.8L255.0,752.7ZM282.5,760.8L283.2,762.7L285.4,762.8L283.7,764.1L284.3,766.2L282.5,765.0L280.7,766.2L281.3,764.1L279.6,762.8L281.8,762.7ZM261.8,774.0L262.5,776.0L264.6,776.1L262.9,777.4L263.5,779.4L261.8,778.3L260.0,779.4L260.6,777.4L258.9,776.1L261.0,776.0ZM215.8,774.5L216.5,776.5L218.6,776.6L216.9,777.9L217.5,779.9L215.8,778.8L214.0,779.9L214.6,777.9L212.9,776.6L215.0,776.5ZM211.8,758.8L212.5,760.7L214.6,760.8L212.9,762.1L213.5,764.2L211.8,763.0L210.0,764.2L210.6,762.1L208.9,760.8L211.0,760.7ZM228.8,758.2L229.5,760.2L231.6,760.3L229.9,761.6L230.5,763.7L228.8,762.5L227.0,763.7L227.6,761.6L225.9,760.3L228.0,760.2ZM190.0,751.5L190.7,753.5L192.9,753.6L191.2,754.9L191.8,756.9L190.0,755.8L188.2,756.9L188.8,754.9L187.1,753.6L189.3,753.5ZM196.2,751.5L197.0,753.5L199.1,753.6L197.4,754.9L198.0,756.9L196.2,755.8L194.5,756.9L195.1,754.9L193.4,753.6L195.5,753.5ZM164.5,751.2L165.2,753.2L167.4,753.3L165.7,754.6L166.3,756.7L164.5,755.5L162.7,756.7L163.3,754.6L161.6,753.3L163.8,753.2ZM154.2,759.5L155.0,761.5L157.1,761.6L155.4,762.9L156.0,764.9L154.2,763.8L152.5,764.9L153.1,762.9L151.4,761.6L153.5,761.5ZM159.2,767.8L160.0,769.7L162.1,769.8L160.4,771.1L161.0,773.2L159.2,772.0L157.5,773.2L158.1,771.1L156.4,769.8L158.5,769.7ZM176.0,762.8L176.7,764.7L178.9,764.8L177.2,766.1L177.8,768.2L176.0,767.0L174.2,768.2L174.8,766.1L173.1,764.8L175.3,764.7ZM120.8,778.8L121.5,780.7L123.6,780.8L121.9,782.1L122.5,784.2L120.8,783.0L119.0,784.2L119.6,782.1L117.9,780.8L120.0,780.7ZM112.5,785.0L113.2,787.0L115.4,787.1L113.7,788.4L114.3,790.4L112.5,789.3L110.7,790.4L111.3,788.4L109.6,787.1L111.8,787.0ZM149.5,792.5L150.2,794.5L152.4,794.6L150.7,795.9L151.3,797.9L149.5,796.8L147.7,797.9L148.3,795.9L146.6,794.6L148.8,794.5ZM141.2,805.5L142.0,807.5L144.1,807.6L142.4,808.9L143.0,810.9L141.2,809.8L139.5,810.9L140.1,808.9L138.4,807.6L140.5,807.5Z"/><circle cx="211.2" cy="718.0" r="0.9"/><circle cx="196.8" cy="726.2" r="0.9"/><circle cx="247.5" cy="722.5" r="0.9"/><circle cx="273.8" cy="728.8" r="0.9"/><circle cx="249.2" cy="740.0" r="0.9"/><circle cx="290.8" cy="745.8" r="0.9"/><circle cx="147.5" cy="744.5" r="0.9"/><circle cx="200.8" cy="739.2" r="0.9"/><circle cx="205.8" cy="750.0" r="0.9"/><circle cx="261.2" cy="761.8" r="0.9"/><circle cx="225.0" cy="762.5" r="0.9"/><circle cx="245.0" cy="769.2" r="0.9"/><circle cx="226.2" cy="775.0" r="0.9"/><circle cx="177.0" cy="778.2" r="0.9"/><circle cx="181.2" cy="785.0" r="0.9"/><circle cx="200.0" cy="783.8" r="0.9"/><circle cx="290.0" cy="780.0" r="0.9"/><circle cx="112.5" cy="773.8" r="0.9"/><circle cx="134.5" cy="793.8" r="0.9"/><circle cx="137.0" cy="795.5" r="0.9"/><circle cx="163.2" cy="805.5" r="0.9"/><circle cx="125.5" cy="815.0" r="0.9"/><circle cx="232.0" cy="735.0" r="0.9"/><circle cx="239.2" cy="734.2" r="0.9"/></g>
<!-- mattress -->
<path fill="#fbfbfb" d="M82.5,840L178,811L332.5,819V836.5L217,892L82.5,860.5Z"/>
<path fill="#e8161e" d="M83.5,840.3L176,811.8L240,822L290,831.5L217.5,863.5C182,855 132,845.5 83.5,840.3Z"/>
<path fill="none" stroke="#fff" stroke-width="1.6" d="M83,840.2L177,811.2"/>
<path fill="#e8161e" d="M326,820.2L332.5,817.3V819.5Z"/>
<path fill="none" stroke="#666666" stroke-width="1.6" d="M82.7,842V860.5"/>
<path fill="none" stroke="#666666" stroke-width="2.6" stroke-linecap="round" d="M83,860.6L216.5,891.2"/>
<path fill="none" stroke="#666666" stroke-width="3" stroke-linecap="round" d="M217.5,891.2L332.3,837.2"/>
<path fill="none" stroke="#9a9a9a" stroke-width="1" d="M332.3,820V837"/>
<ellipse cx="216.6" cy="877" rx="1.6" ry="13" fill="#666666"/>
<!-- pillows -->
<path fill="#fdfdfd" stroke="#c6c6c6" stroke-width="1" d="M246,815C250,806 264,798.5 281,796.5C300,797 322,802 334,809C334.5,814 330,819.5 320,823C312,826.5 304,828 298,829C296,832.5 290,833.5 286,831C272,828 254,820 240,812Z"/>
<path fill="#fdfdfd" stroke="#c6c6c6" stroke-width="1" d="M174,808C178,800 194,793 211,789.5C214,785.5 222,785 227,787.5C246,788.5 262,794.5 270,800.5C271,810 264,818 252,822C246,826 238,826 233,823C228,825 224,823 222,820.5C205,819 185,815 174,808Z"/>
<path fill="#777777" d="M236,810.5C239,801 250,798.5 262,800.2C251,802 242.5,806 236,810.5Z"/>
<path fill="#777777" d="M299,820.5C302.5,811 312.5,808 324,809.5C313.5,811.5 305.5,815.5 299,820.5Z"/>
<!-- arrows -->
<path fill="none" stroke="#e8161e" stroke-width="3" stroke-linejoin="miter" d="M80.5,871.2L217.5,904L338.5,845.5"/>
<path fill="none" stroke="#e8161e" stroke-width="3" stroke-linejoin="miter" d="M97.5,866L80.5,871.2L87.8,884"/>
<path fill="none" stroke="#e8161e" stroke-width="3" stroke-linejoin="miter" d="M324,845L338.8,845.3L332.5,860"/>
</g>
<!-- BED-END -->
<g opacity="0.999"><text x="340" y="823" font-weight="bold" font-size="38" fill="#606060">200 x 146</text></g>
</svg>
</body>
</html>
